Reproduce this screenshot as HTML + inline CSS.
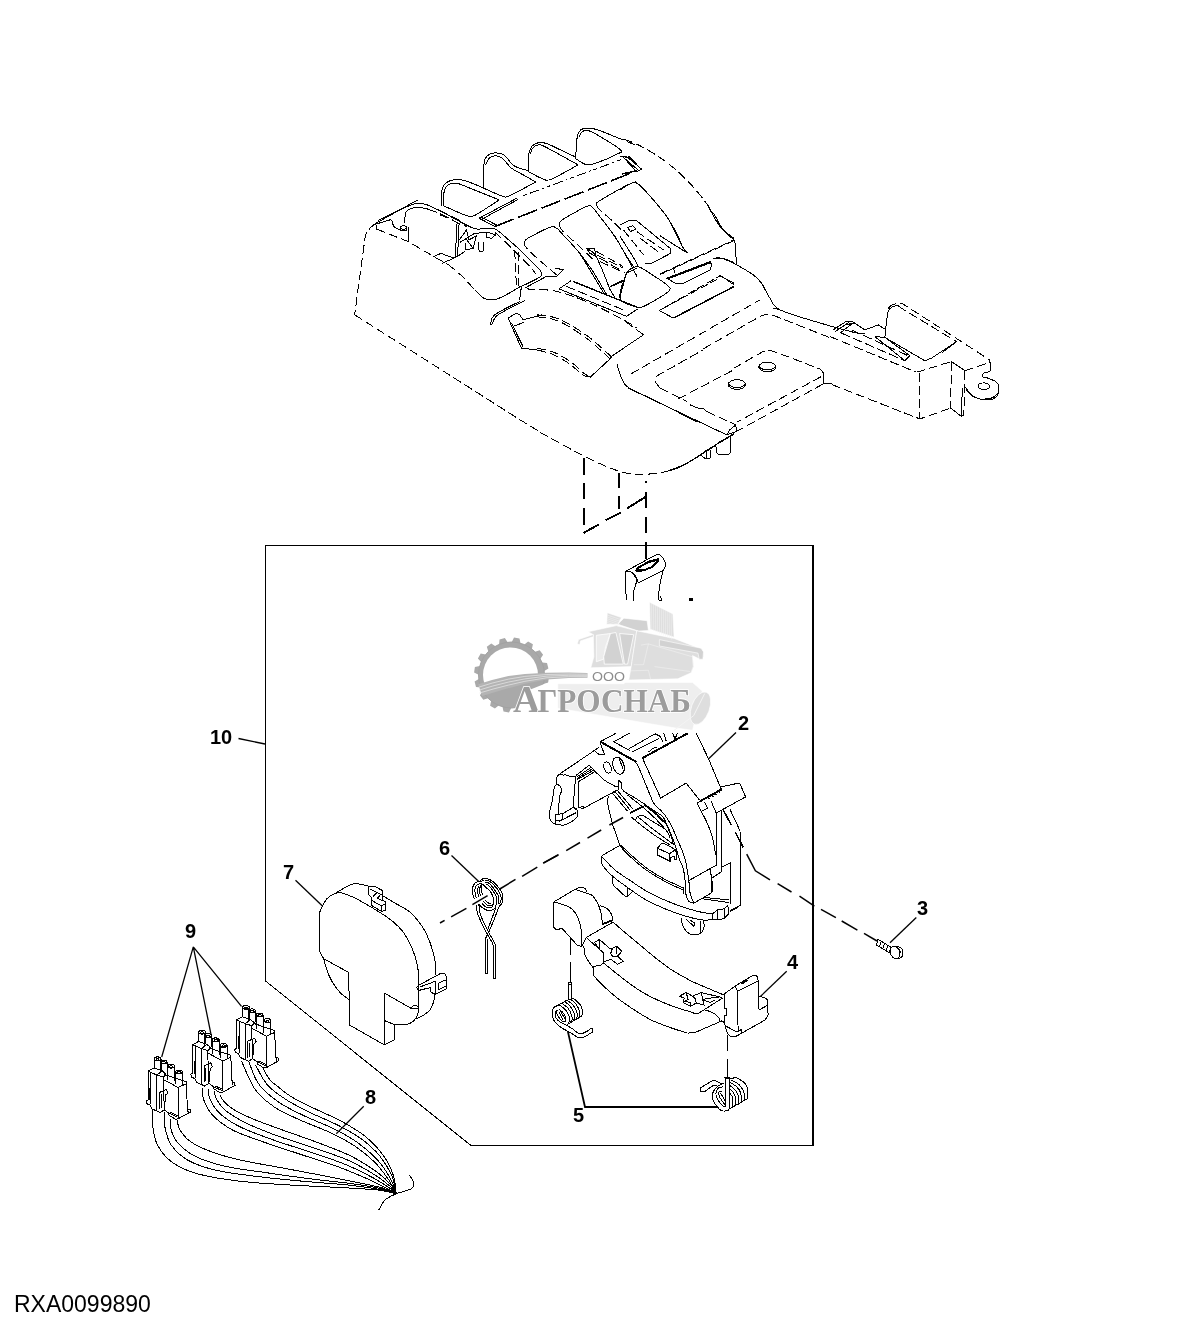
<!DOCTYPE html>
<html><head><meta charset="utf-8">
<style>
html,body{margin:0;padding:0;background:#fff;}
body{width:1184px;height:1334px;overflow:hidden;position:relative;font-family:"Liberation Sans",sans-serif;}
svg{position:absolute;left:0;top:0;}
.l{fill:none;stroke:#000;stroke-width:1;}
.w{fill:#fff;stroke:#000;stroke-width:1;}
.d{fill:none;stroke:#000;stroke-width:1;stroke-dasharray:9 4;}
.ax{fill:none;stroke:#000;stroke-width:1.5;shape-rendering:geometricPrecision;}
.ld{fill:none;stroke:#000;stroke-width:1.3;}
.n{font-family:"Liberation Sans",sans-serif;font-weight:bold;font-size:20px;fill:#000;}
.f{font-family:"Liberation Sans",sans-serif;font-size:23px;fill:#000;}
</style></head><body>
<svg width="1184" height="1334" viewBox="0 0 1184 1334">
<defs><filter id="gs" x="0" y="0" width="1184" height="1334" filterUnits="userSpaceOnUse" color-interpolation-filters="sRGB"><feColorMatrix type="saturate" values="0"/></filter></defs>
<rect width="1184" height="1334" fill="#fff"/>
<g id="parts" shape-rendering="crispEdges">
<!-- part7 -->
<path class="l"  d="M319.4 951.2 C319.4 945.4 319 923.5 319.4 916.2 C319.8 909 320.6 910.4 321.9 907.5 C323.1 904.6 324.7 901.1 326.9 898.8 C329.1 896.4 332.4 894.4 335 893.5 C337.6 892.6 339.2 892.4 342.5 893.1 C345.8 893.9 350.8 896.1 355 898.1 C359.2 900.1 363.3 902.6 367.5 905 C371.7 907.4 375.8 909.8 380 912.5 C384.2 915.2 388.8 918.1 392.5 921.2 C396.2 924.4 399.6 927.5 402.5 931.2 C405.4 935 407.9 939.6 410 943.8 C412.1 947.9 413.6 951.9 415 956.2 C416.4 960.6 417.5 965.2 418.1 970 C418.8 974.8 418.6 978.8 418.8 985 C418.9 991.2 419.1 1002.3 418.8 1007.5 C418.4 1012.7 417.9 1013.9 416.9 1016.2 C415.8 1018.6 414.3 1020.5 412.5 1021.9 C410.7 1023.2 409.3 1023.9 406.2 1024.4 C403.2 1024.8 396.4 1024.6 394.4 1024.6"/>
<path class="l"  d="M335 893.5 C337.7 892 346.9 885.9 351.2 884.4 C355.6 882.9 358.3 884.1 361.2 884.4 C364.2 884.7 367.5 885.9 368.8 886.2"/>
<path class="l"  d="M382.5 895.6 C384.6 896.9 390.6 900.5 395 903.1 C399.4 905.7 405 908.4 408.8 911.2 C412.5 914.1 414.8 916.7 417.5 920 C420.2 923.3 422.9 927.5 425 931.2 C427.1 935 428.5 938.5 430 942.5 C431.5 946.5 432.8 951.2 433.8 955 C434.7 958.8 435.3 961.7 435.6 965 C435.9 968.3 435.6 973.3 435.6 975"/>
<path class="l"  d="M434.4 993.1 C434.3 994.5 434.5 998.4 433.8 1001.2 C433 1004.1 431.7 1007.7 430 1010 C428.3 1012.3 426 1013.5 423.8 1015 C421.5 1016.5 417.5 1018.1 416.2 1018.8"/>
<path class="l"  d="M319.4 951.2 L323.8 958.8 L348.8 972.5 L349.4 1025 L384.4 1045"/>
<path class="l"  d="M323.8 958.8 C324.3 960.6 325.5 966.2 326.9 970 C328.2 973.8 329.7 977.5 331.9 981.2 C334.1 985 337.2 989.5 340 992.5 C342.8 995.5 347.3 998.2 348.8 999.4"/>
<path class="l"  d="M384.4 1045 L384.4 993.1 L410.6 1008.1 L418.8 1008.1"/>
<path class="l"  d="M384.4 1020.6 L394.4 1024.6 L394.4 1040 L384.4 1045"/>
<path class="l"  d="M410.6 1008.1 C411.4 1007.6 413.6 1005 415 1005 C416.4 1005 418.1 1007.6 418.8 1008.1"/>
<path class="l"  d="M368.8 886.2 L374.4 886.2 L382.5 890.6 L382.5 900 L385.6 901.9 L385.6 910.6 L381.2 911.2 L371.9 905.6 L371.9 898.1 L368.8 895Z"/>
<path class="l"  d="M369.4 888.8 L376.9 892.5 L373.1 896.5"/>
<path class="l"  d="M376.9 892.5 L382.5 895"/>
<path class="l"  d="M380 895.6 L377.5 898.1 L382.5 900.6"/>
<path class="l"  d="M371.9 900.6 L381.2 905.6 L385.6 903.8"/>
<path class="l"  d="M381.2 905.6 L381.2 911.2"/>
<path class="l"  d="M418.1 985.6 L441.2 973.1 L445 973.8 L446.2 976.2 L446.2 988.8 L435 994.4 L430.6 991.9 L430.6 987.5 L418.1 990.6 L416.9 987.5Z"/>
<path class="l"  d="M435.6 981.2 L435.6 993.8"/>
<path class="l"  d="M438.8 983.1 L445.6 980"/>
<path class="l"  d="M438.8 983.1 L438.8 989.4 L445.6 986.2"/>
<path class="l"  d="M420 986.9 L435.6 981.2"/>
<!-- part6 -->
<path class="l"  d="M479.8 880.6 C480.4 880.2 483.2 878.4 484.4 878.2 C485.6 878 487.4 878.5 488.6 879.1 C489.9 879.6 492.4 881.1 493.7 882.2 C495.1 883.4 497.7 886.2 498.8 887.7 C499.9 889.3 501.6 892.1 502.2 893.6 C502.7 895.2 503.1 898.2 503 899.6 C503 900.9 502.3 902.8 501.7 903.8 C501.2 904.7 499.2 906.3 498.8 906.7"/>
<path class="l"  d="M484.8 880.1 C485.4 880.2 487.6 880.1 488.6 880.6 C489.7 881.1 491.5 882.7 492.7 883.9 C493.8 885 496.1 887.5 497.2 888.9 C498.2 890.4 499.9 893.3 500.5 894.8 C501 896.3 501.2 898.9 501.1 900.1 C501 901.3 499.9 903.3 499.7 903.8"/>
<path class="l"  d="M485.2 882 C485.6 882.2 487.8 882.5 488.6 883 C489.5 883.5 490.5 884.7 491.4 885.7 C492.3 886.7 494.4 889.4 495.3 890.8 C496.2 892.1 497.9 894.5 498.4 895.8 C498.9 897.2 499.1 899.9 499 901 C499 902.2 497.9 904 497.7 904.4"/>
<path class="l"  d="M486.1 883.9 C486.6 884.3 488.5 885.4 489.5 886.5 C490.5 887.5 492.8 890.6 493.7 892 C494.6 893.4 496 895.7 496.5 897 C496.9 898.4 497 900.9 496.9 902.1 C496.8 903.3 496 905.4 495.8 905.9"/>
<path class="l"  d="M486.1 887.7 C486.6 888.1 488.6 889.3 489.5 890.3 C490.3 891.3 491.9 894 492.4 895.3 C493 896.7 493.6 899.2 493.7 900.4 C493.8 901.6 493.6 903.5 493.3 904.2 C493 904.9 491.5 905.7 491.2 905.9"/>
<path class="l"  d="M484.4 880.8 C483.5 880.9 479 881.2 477.7 881.6 C476.4 882 475.4 882.8 474.7 883.5 C474.1 884.2 473.2 885.9 472.8 886.9 C472.5 887.9 472.2 890 472.2 891.1 C472.2 892.2 472.7 894.3 473 895.3 C473.3 896.4 474.3 898.6 474.5 899.1"/>
<path class="l"  d="M486.1 887.7 C485.7 887.3 483.6 884.9 482.7 884.4 C481.8 883.9 480.1 883.8 479.4 883.9 C478.6 884 477.4 884.7 476.8 885.2 C476.3 885.7 475.6 886.9 475.3 887.7 C475.1 888.5 474.9 890.1 474.9 891.1 C475 892.1 475.4 894.4 475.6 895.3 C475.8 896.3 476.3 897.9 476.4 898.3"/>
<path class="l"  d="M479.4 885.6 C479.2 885.9 478.3 887 478.1 887.7 C477.9 888.5 477.7 890.2 477.7 891.1 C477.7 892 478 893.6 478.1 894.5 C478.2 895.3 478.5 897.1 478.5 897.4"/>
<path class="l"  d="M480.6 885.2 C480.5 885.7 479.9 887.7 479.8 888.6 C479.7 889.5 479.7 890.9 479.8 892 C479.9 893 480.3 895.6 480.4 896.2"/>
<path class="l"  d="M481.9 884.4 C481.8 884.9 481.5 887.5 481.5 888.6 C481.5 889.7 481.8 891.9 481.9 892.8 C482 893.7 482.4 895 482.5 895.3"/>
<path class="l"  d="M478.5 905.9 C478.5 905.7 478.1 904 478.5 904.2 C479 904.4 481 906.5 481.9 907.2 C482.7 907.8 484 908.8 484.8 909.3 C485.7 909.7 487.4 910.4 488.2 910.5 C489.1 910.7 490.3 910.8 491.2 910.5 C492 910.3 493.9 909 494.6 908.4 C495.2 907.8 496 906.2 496.2 905.9"/>
<path class="l"  d="M481.9 903.4 C482.2 903.7 483.7 905.3 484.4 905.9 C485.2 906.5 486.5 907.4 487.4 907.6 C488.2 907.8 490 907.8 490.8 907.6 C491.5 907.4 493 906.1 493.3 905.9"/>
<path class="l"  d="M483.2 901.2 C483.6 901.6 485.4 903.6 486.1 904.2 C486.8 904.8 487.9 905.4 488.6 905.5 C489.4 905.6 491.6 905.1 492 905.1"/>
<path class="l"  d="M485.3 900 C485.7 900.4 487.4 902.4 488.2 902.9 C489 903.4 490.8 903.7 491.2 903.8"/>
<path class="l"  d="M476 905.2 C476.3 906.8 476.4 910.6 478 914.9 C479.6 919.2 483.2 926.3 485.6 931.1 C488.1 935.9 491.4 940.8 492.7 943.7 C494 946.7 493.1 948 493.2 948.8"/>
<path class="l"  d="M493.2 948.8 L493.2 978.7 L495.5 978.7 L495.5 946.3"/>
<path class="l"  d="M479 904.7 C479.3 906.4 479.1 910.6 480.5 914.9 C482 919.1 485.2 925.2 487.6 930.1 C490.1 935 493.9 941.6 495.2 944.3 C496.6 947 495.5 945.9 495.5 946.3"/>
<path class="l"  d="M498.6 906.8 C498.1 908.3 497.1 911.8 495.5 915.9 C494 919.9 490.7 927.7 489.2 931.1 C487.6 934.5 487.1 934.5 486.4 936.1 C485.8 937.8 485.5 940.4 485.3 941.2"/>
<path class="l"  d="M485.3 941.2 L485.1 973.1 L487.4 973.1 L487.4 939.2"/>
<path class="l"  d="M495.9 908 C495.4 909.3 494 913 492.9 915.9 C491.8 918.7 490.4 922.6 489.5 925 C488.5 927.4 487.8 929.2 487.4 930.1"/>
<path class="ax"  d="M440 923 L444.6 920.4"/>
<path class="ax"  d="M451.1 916.9 L466.4 908.3"/>
<path class="ax"  d="M472.4 904.7 L487.6 895.6"/>
<path class="ax"  d="M499.8 889 L515.5 879.4"/>
<path class="ax"  d="M522.1 876.4 L537.3 867.2"/>
<path class="ax"  d="M543.4 863.2 L558.6 854.6"/>
<!-- part2 -->
<path class="l"  d="M616.2 733.1 L600 741.9 L604.4 754.4 L599.4 755 L594 750"/>
<path class="l"  d="M598.8 747.5 L560 773.8"/>
<path class="l"  d="M629.4 733.1 L613.8 741.9 L630 750.6"/>
<path class="l"  d="M560 773.8 C559.6 774.2 558.1 775.2 557.5 776.2 C556.9 777.3 556.4 778.8 556.2 780 C556.1 781.2 557.2 782.5 556.9 783.8 C556.6 785 555 785.6 554.4 787.5 C553.8 789.4 553.5 792.5 553.1 795 C552.7 797.5 552.4 799.8 551.9 802.5 C551.3 805.2 550.1 808.5 549.8 811.2 C549.4 814 549.3 816.9 549.8 818.8 C550.2 820.6 551.4 821.6 552.5 822.5 C553.6 823.4 554.4 824 556.2 824.4 C558.1 824.8 561.5 825.3 563.8 825 C566 824.7 567.9 823.6 570 822.5 C572.1 821.4 575 819.4 576.2 818.1 C577.5 816.9 577.1 816.4 577.2 815 C577.4 813.6 577.8 811.4 577.2 810 C576.7 808.6 574.3 807.4 573.8 806.9"/>
<path class="l"  d="M560 773.8 C560.5 774 562.1 774.8 563.1 775 C564.2 775.2 564.7 774.7 566.2 775 C567.8 775.3 570.8 776.7 572.5 776.9 C574.2 777.1 575.6 776.4 576.2 776.2"/>
<path class="l"  d="M556.9 783.8 C557.4 784.2 559.2 785.2 560 786.2 C560.8 787.3 561.9 788.5 561.9 790 C561.9 791.5 560.5 792.5 560 795 C559.5 797.5 559.1 801.9 558.8 805 C558.4 808.1 558.2 812.3 558.1 813.8"/>
<path class="l"  d="M555 814.4 L562.5 813.8 L573.1 807.5 L576.9 810"/>
<path class="l"  d="M555 814.4 L555 820.6 L561.9 820 L562.5 813.8"/>
<path class="l"  d="M561.9 820 L576.2 812.5"/>
<path class="l"  d="M558.8 821.5 L576.2 812.8"/>
<path class="l"  d="M555 820.6 L556.2 824.4"/>
<path class="l"  d="M575.6 777.5 L573.1 806.9"/>
<path class="l"  d="M578.1 781.2 L578.1 808.1 L583.1 806.2 L583.8 808.5 L581.2 809"/>
<path class="l"  d="M575.6 775.6 L589.4 765.2 L595 771.5 L578.8 781.5"/>
<path class="l"  d="M576.5 777.2 L591.9 766.9"/>
<path class="l"  d="M577 778.5 L593.1 768.4"/>
<path class="l"  d="M577.5 779.5 L594 770"/>
<path class="l"  d="M595 771.5 C595.6 772.1 597.1 773.5 598.8 775 C600.4 776.5 602.3 778.8 605 780.6 C607.7 782.5 612.8 785.2 615 786.2 C617.2 787.3 617.6 786.8 618.1 786.9"/>
<path class="l"  d="M618.1 780 L618.1 790.2"/>
<path class="l"  d="M618.1 780 L621.2 782.5 L621.9 788.8 L623.5 791"/>
<path class="l"  d="M583.8 808.1 L616.9 790.2"/>
<path class="l"  d="M612.5 793.1 L618.1 790"/>
<path class="l"  d="M608.1 796.2 C608.1 797.9 607.4 801.7 608.1 806.2 C608.9 810.8 611.4 819.6 612.5 823.8 C613.6 827.9 614 828.1 615 831.2 C616 834.4 618 840.1 618.8 842.5 C619.5 844.9 619.3 845.1 619.4 845.6"/>
<ellipse class="l" cx="607.5" cy="767.5" rx="3.4" ry="5.8" transform="rotate(-20 607.5 767.5)"/>
<ellipse class="l" cx="618.5" cy="765.6" rx="5.4" ry="8.8" transform="rotate(-18 618.5 765.6)"/>
<path class="l"  d="M618.8 757.8 L623.1 769"/>
<path class="l" style="stroke-width:2" d="M600.2 741.6 L636.5 762"/>
<path class="l"  d="M636 762.7 C636.3 763.3 637.2 763.9 638.5 766.9 C639.9 770 644.1 780.7 646.2 785.6 C648.2 790.4 651.8 800 653.8 803.3 C655.8 806.7 659.6 808.9 661.4 811 C663.2 813 665.9 816.3 667.3 818.6 C668.8 820.8 671.1 825.1 672.4 827.9 C673.8 830.7 676.1 836.6 677.5 839.8 C678.9 842.9 681.4 848.5 682.6 851.6 C683.7 854.7 685.1 859.2 686 863 C686.8 866.7 688.2 876.1 688.8 880 C689.3 883.9 689.3 889.4 690 892.5 C690.7 895.6 693.2 901.7 693.8 903.1"/>
<path class="l"  d="M645.3 805 C646.9 806.1 654.7 811 657.2 812.7 C659.6 814.4 661.7 814.8 663.5 817.7 C665.4 820.7 669.5 830.7 671.1 834.7 C672.8 838.6 674.7 844 675.8 847.4 C676.9 850.8 678.6 857.3 679.6 860.1 C680.6 862.8 682.4 865.3 683.1 868 C683.8 870.7 684.7 876.7 685 880 C685.3 883.3 685.1 889.7 685.6 892.5 C686.1 895.3 687.7 899.8 688.8 901.2 C689.8 902.7 693.1 902.9 693.8 903.1"/>
<path class="l" style="stroke-width:2" d="M642.5 758.1 L688.1 733.1"/>
<path class="l"  d="M642.5 758.1 L660.6 798.1 L686.2 783.1 L699.4 800"/>
<path class="l"  d="M696.2 733.1 L708.8 759.4 L720 786.2"/>
<path class="l"  d="M628.8 748.8 L655 733.8 L660 736.2 L663.1 742.5"/>
<path class="l"  d="M632.5 751.9 L658.8 738.8"/>
<path class="l"  d="M648.8 751.9 C649.4 751.4 651 749.6 652.5 748.8 C654 747.9 656.7 747.2 657.5 746.9"/>
<path class="l"  d="M663.8 733.1 L666.2 741.2"/>
<path class="l"  d="M672.5 733.1 L675 738.8 L677.5 733.1"/>
<path class="l"  d="M612.5 793.1 L627.5 811.2"/>
<path class="l"  d="M615 791.5 L630.2 810.2"/>
<path class="l"  d="M617.5 790.6 L632.8 809"/>
<path class="l" style="stroke-width:1.6" d="M630 813.1 L643.8 806.2"/>
<path class="l" style="stroke-width:2" d="M644 804 L657.5 815 L663.1 821.5"/>
<path class="l"  d="M631.2 816.9 L635 820.2 L637.5 816.5 L642.5 815.2 L665 829"/>
<path class="l"  d="M622.5 790.6 C626 792.8 636.7 798.4 643.8 803.8 C650.8 809.1 660 815.6 665 822.5 C670 829.4 672.3 841.2 673.8 845"/>
<path class="l"  d="M627.5 795 C630.6 797.5 640 804.4 646.2 810 C652.5 815.6 661 824.2 665 828.8 C669 833.3 669.2 836 670 837.5"/>
<path class="l"  d="M637.5 816.5 C640 818.5 646.7 824.2 652.5 828.8 C658.3 833.3 669.2 841.2 672.5 843.8"/>
<path class="l"  d="M635 820.2 C637.9 822.5 646.7 829.6 652.5 833.8 C658.3 837.9 667.1 843.1 670 845"/>
<path class="l"  d="M657.5 848.1 L661.9 843.1 L665 843.8 L675 849.4 L676.9 855 L676.9 860 L674.4 859.4 L674.4 856.2 L670 857.5 L670 861.2 L657.5 855Z"/>
<path class="l"  d="M657.5 848.1 L669.4 853.8 L670 861.2"/>
<path class="l"  d="M669.4 853.8 L675 850"/>
<path class="ax"  d="M543.1 863.1 L558.1 855"/>
<path class="ax"  d="M566.2 850.6 L580 842.5"/>
<path class="ax"  d="M587.5 838.1 L601.2 830"/>
<path class="ax"  d="M609.4 825 L623.1 817.5"/>
<path class="l"  d="M696.9 803.1 L700 801.2 L721.2 788.8 L720 787.1 L738.8 783.1 L740 783.8 L745.6 796.9 L716.2 813.1 L711.2 801.5"/>
<path class="l" style="stroke-width:2" d="M700 801.2 L721.9 789.4"/>
<path class="l"  d="M696.9 803.1 L701.2 811.2 L707.5 808.5 L704.6 801.9"/>
<path class="d" style="stroke-dasharray:2 2" d="M708.1 799 L721.5 791.5"/>
<path class="l"  d="M701.2 811.2 C702.3 813.3 705.6 819.4 707.5 823.8 C709.4 828.1 711.1 832.3 712.5 837.5 C713.9 842.7 715.1 852.1 715.6 855"/>
<path class="l"  d="M716.5 813.1 L716.5 865 L688.8 880.6 L690 891.8"/>
<path class="l"  d="M721.2 811.2 L721.2 871.5"/>
<path class="l"  d="M710 868.8 L711.9 878.1 L721.2 871.9"/>
<path class="l"  d="M721.2 867.5 L730.6 862.5 L730.6 903.5"/>
<path class="l"  d="M711.9 878.1 L712.5 891.8"/>
<path class="l"  d="M740 831.2 L740.6 847.5 L740.8 905 L729.8 910.5"/>
<path class="l"  d="M730 809.4 C731 811.6 734.6 818.9 736.2 822.5 C737.9 826.1 739.4 829.8 740 831.2"/>
<path class="l"  d="M601.9 855.6 L619.4 845.6"/>
<path class="l"  d="M619.4 845.6 C621.4 847.6 626.8 853.4 631.2 857.5 C635.7 861.6 641 866.2 646.2 870 C651.5 873.8 657.3 877.1 662.5 880 C667.7 882.9 674 885.8 677.5 887.5 C681 889.2 682.7 889.6 683.8 890"/>
<path class="l"  d="M620.6 845 C622.6 846.9 628 852.3 632.5 856.2 C637 860.2 642.3 865 647.5 868.8 C652.7 872.5 657.7 875.5 663.8 878.8 C669.8 882 680.4 886.6 683.8 888.1"/>
<path class="l"  d="M683.8 888.1 L683.8 893.8"/>
<path class="l"  d="M601.9 855.6 C601.9 857 600.3 860.5 601.9 863.8 C603.4 867 607 871 611.2 875 C615.5 879 621.7 883.3 627.5 887.5 C633.3 891.7 640 896.5 646.2 900 C652.5 903.5 658.8 906.1 665 908.8 C671.2 911.4 677.5 913.8 683.8 915.6 C690 917.5 697.6 919.4 702.5 920 C707.4 920.6 711.4 919.5 713.1 919.4"/>
<path class="l"  d="M602.5 857.5 C604.6 859.6 610.2 866 615 870 C619.8 874 625.6 877.5 631.2 881.2 C636.9 885 642.7 889.2 648.8 892.5 C654.8 895.8 661.2 898.6 667.5 901.2 C673.8 903.9 680.4 906.2 686.2 908.1 C692.1 910 698.1 911.6 702.5 912.5 C706.9 913.4 710.8 913.5 712.5 913.8"/>
<path class="l"  d="M612.5 876.2 L613.1 885 L625 896.2 L627.5 896.2 L631.9 892.5"/>
<path class="l"  d="M627.5 887.5 L627.5 896.2"/>
<path class="l"  d="M712.5 913.8 L717.5 910 L724.4 908.8 L727.5 905.6 L728.8 908.8 L728.8 913.8 L724.4 918.1 L721.2 919.4 L713.1 919.4Z"/>
<path class="l"  d="M717.5 910 L717.5 918.8"/>
<path class="l"  d="M724.4 908.8 L725 917.5"/>
<path class="l"  d="M710 870 C710.3 871.7 711.7 876.1 711.9 880 C712.1 883.9 711.4 890.9 711.2 893.1"/>
<path class="l"  d="M711.2 893.1 L693.8 903.1"/>
<path class="l"  d="M702.5 898.8 L728.8 902.5"/>
<path class="l"  d="M705 897.5 L729.4 900"/>
<path class="l"  d="M681.2 918.1 C681.5 919.3 681.7 922.8 682.5 925 C683.3 927.2 684.8 929.7 686.2 931.2 C687.7 932.8 689.2 933.9 691.2 934.4 C693.3 934.9 696.7 935.3 698.8 934.4 C700.8 933.4 702.9 931 703.8 928.8 C704.6 926.5 703.8 922 703.8 920.6"/>
<path class="l"  d="M700 920.6 L700 932.5"/>
<path class="l"  d="M686.2 919.4 L693.8 926.2 L695 923.1 L690 920"/>
<path class="l"  d="M730 911.2 L738 907.5"/>
<!-- part4 -->
<path class="l"  d="M553.8 901.9 L575 889.4"/>
<path class="l"  d="M575 889.4 C575.5 889.2 577 888.4 578.1 888.1 C579.3 887.8 580.6 887.4 581.9 887.5 C583.1 887.6 584.9 888.2 585.6 889 C586.4 889.8 586.1 891.9 586.2 892.5"/>
<path class="l"  d="M575 889.4 C576.9 890 583.3 892.1 586.2 893.1 C589.2 894.2 590.7 894.2 592.5 895.6 C594.3 897.1 595.5 899.3 596.9 901.9 C598.2 904.5 599.7 907.6 600.6 911.2 C601.6 914.9 602.2 921.7 602.5 923.8"/>
<path class="l"  d="M602.5 923.8 L613.1 919.4"/>
<path class="l"  d="M602.5 924.6 L613.1 920.6"/>
<path class="l"  d="M553.8 901.9 L553.8 927.5 L556.9 930 L561.9 928.1 L577.5 945.6 L581.9 946.2"/>
<path class="l"  d="M553.8 901.9 C555.2 902.3 559.8 903.4 562.5 904.4 C565.2 905.3 567.9 906.1 570 907.5 C572.1 908.9 573.5 910.4 575 912.5 C576.5 914.6 577.7 917.1 578.8 920 C579.8 922.9 580.7 925.6 581.2 930 C581.8 934.4 581.8 943.5 581.9 946.2"/>
<path class="l"  d="M600 905.6 C601.2 906.1 605.6 907.4 607.5 908.8 C609.4 910.1 610.3 912 611.2 913.8 C612.2 915.5 612.8 918.4 613.1 919.4"/>
<path class="l"  d="M581.9 946.2 L586.2 937.5 L613.1 922.1"/>
<path class="l"  d="M586.2 937.5 L603.8 953.1 L603.8 961.9 L600.6 965.6 L593.1 966.2 L593.1 975"/>
<path class="l"  d="M583.8 946.2 C584 947.7 584.1 952.3 585 955 C585.9 957.7 588 960.4 589.4 962.5 C590.7 964.6 592.5 966.7 593.1 967.5"/>
<path class="l"  d="M613.1 922.1 C615.1 923.9 620.5 928.7 625 932.5 C629.5 936.3 635 940.8 640 945 C645 949.2 650 953.5 655 957.5 C660 961.5 665.4 965.6 670 968.8 C674.6 971.9 678.7 974.1 682.5 976.2 C686.3 978.4 688.8 979.9 693 981.9 C697.2 983.9 702.6 986 707.5 988.1 C712.4 990.2 719.7 993.2 722.5 994.4 C725.3 995.5 724.1 994.9 724.4 995"/>
<path class="l"  d="M603.8 963.1 C606.5 965.3 614.2 971.8 620 976.2 C625.8 980.7 632.5 986 638.8 990 C645 994 651.2 997.1 657.5 1000 C663.8 1002.9 670.3 1005.4 676.2 1007.5 C682.2 1009.6 690.1 1011.5 693 1012.5 C695.9 1013.5 693.6 1013.5 693.8 1013.8"/>
<path class="l"  d="M593.1 975 C594.5 976.5 597.6 980.2 601.2 983.8 C604.9 987.3 609.8 992.1 615 996.2 C620.2 1000.4 626.5 1004.8 632.5 1008.8 C638.5 1012.7 645 1016.9 651.2 1020 C657.5 1023.1 664 1025.3 670 1027.5 C676 1029.7 684.6 1032.2 687.5 1033.1"/>
<path class="l"  d="M594.4 942.5 L599.4 939.4 L609.4 948.1 L612.5 948.1 L616.9 946.2 L621.9 951.2 L617.5 956.2 L623.1 961.2 L617.5 964.4 L611.2 959.4 L603.8 961.9"/>
<path class="l"  d="M594.4 942.5 L600 950 L603.8 953.1"/>
<path class="l"  d="M599.4 939.4 L600 950"/>
<path class="l"  d="M612.5 948.1 L610.6 953.8 L613.1 956.9 L617.5 956.2"/>
<path class="l"  d="M616.9 946.2 L616.9 953.8"/>
<path class="l"  d="M693.8 1013.8 L698.8 1013.1 L722.5 998.1"/>
<path class="l"  d="M687.5 1033.1 L695 1032.5 L722.5 1020.6"/>
<path class="l"  d="M705 1010 C706.2 1010.4 710.2 1011.2 712.5 1012.5 C714.8 1013.8 717.5 1016 718.8 1017.5 C720 1019 719.8 1020.6 720 1021.2"/>
<path class="l"  d="M724.4 993.8 L735 986.2 L737.5 991.2 L738.1 1031.2 L741.9 1029.4 L741.9 1033.1 L735 1036.9 L730 1036.2 L727.5 1033.8 L725 1025 L722.5 1020.6"/>
<path class="l"  d="M724.4 993.8 L724.4 1008.1 L726.2 1008.8 L726.2 1015 L724.4 1015 L725 1025"/>
<path class="l"  d="M726.2 1026.2 L735 1031.2 L738.1 1031.9"/>
<path class="l"  d="M735 986.2 L752.5 975.6 L755.6 975 L757.5 976.9 L758.1 980 L758.8 996.2 L765.6 998.1 L767.5 1000 L768.1 1015 L765 1020 L741.9 1033.1"/>
<path class="l" style="stroke-width:2" d="M741.2 983.8 L747.5 980"/>
<path class="l"  d="M737.5 991.2 L757.5 981.2"/>
<path class="l"  d="M758.8 996.2 L758.8 1008.8 L760 1009.4 L768.1 1005"/>
<path class="l"  d="M679.4 996.2 L686.2 992.5 L692.5 996.2 L701.2 992.5 L703.1 993.1 L722.5 997.5"/>
<path class="l"  d="M679.4 996.2 L684.4 998.1 L683.1 1002.5 L690.6 1006.2 L696.2 1003.1 L703.8 1005 L705 1005.6"/>
<path class="l"  d="M686.2 992.5 L688.1 999.4 L685 1001.2 L690 1002.5 L690.6 1006.2"/>
<path class="l"  d="M701.2 992.5 L703.8 1005"/>
<path class="l"  d="M692.5 996.2 L695.6 998.8 L696.2 1003.1"/>
<path class="l"  d="M703.1 1000 L705 998.8 L720 996.9"/>
<path class="l"  d="M703.1 1000 L710 1002.5 L715 1000"/>
<!-- part5 -->
<path class="l"  d="M570.6 938.8 L570.6 955"/>
<path class="l"  d="M570.6 961.9 L570.6 981.9"/>
<path class="l"  d="M568.2 999.5 L568.2 982.1 L571.8 982.1 L571.8 999"/>
<path class="l"  d="M568.2 984.7 L571.8 984.7"/>
<path class="l"  d="M553.2 1007.6 C554.2 1007.1 557.1 1005.8 559.3 1004.6 C561.5 1003.4 564.4 1001.4 566.4 1000.5 C568.4 999.5 570.1 999.2 571.5 999 C572.9 998.7 573.5 998.7 574.6 999.2 C575.6 999.7 576.6 1001 577.6 1002 C578.6 1003.1 579.9 1004.1 580.7 1005.6 C581.5 1007 582.2 1009.2 582.5 1010.7 C582.8 1012.1 582.8 1013.2 582.5 1014.2 C582.2 1015.3 581 1016.4 580.7 1016.8"/>
<path class="l"  d="M566.9 1024.7 L580.7 1016.8"/>
<path class="l"  d="M559.8 1005.1 C559.2 1005.3 556.1 1006 555.2 1006.6 C554.2 1007.2 553.1 1008.6 552.6 1009.7 C552.2 1010.7 552 1013.4 552.1 1014.8 C552.3 1016.1 553.1 1018.6 553.7 1019.9 C554.3 1021.1 555.5 1022.8 556.7 1023.9 C557.9 1025.1 561.4 1027.6 562.8 1028.5 C564.3 1029.5 566 1030.2 567.4 1031.1 C568.9 1031.9 572.1 1033.8 573.5 1034.6 C575 1035.5 576.8 1037.1 578.1 1037.4 C579.4 1037.8 581.9 1037.8 583.2 1037.4 C584.6 1037.1 587.1 1035.4 588.3 1034.6 C589.6 1033.9 592.1 1032.2 592.7 1031.8"/>
<path class="l"  d="M592.7 1031.8 L592.7 1029 L591.4 1028"/>
<path class="l"  d="M556.2 1010.2 C556.1 1010.6 555.2 1012.6 555.2 1013.7 C555.2 1014.8 555.6 1017.2 556.2 1018.3 C556.8 1019.4 558.4 1020.9 559.8 1021.9 C561.2 1022.8 565.1 1024.4 566.9 1025.5 C568.8 1026.5 572 1028.5 573.5 1029.5 C575 1030.6 576.8 1032.6 578.1 1033.1 C579.4 1033.6 582 1033.4 583.2 1033.1 C584.4 1032.8 586.2 1031.7 587.3 1031.1 C588.4 1030.4 590.8 1028.6 591.4 1028.3"/>
<path class="l"  d="M556.7 1010.7 C557.2 1010.3 559.3 1009.6 560.3 1010.2 C561.3 1010.7 563.6 1013.6 564.4 1014.8 C565.1 1015.9 565.8 1017.9 565.9 1018.8 C566 1019.7 565.9 1021.1 565.4 1021.4 C564.9 1021.7 563.2 1021.7 562.3 1021.1 C561.4 1020.6 559.5 1018.4 558.8 1017.3 C558 1016.3 557 1014.1 556.7 1013.2 C556.5 1012.3 556.2 1011.1 556.7 1010.7Z"/>
<path class="l"  d="M558.8 1011.7 L562.8 1019.9"/>
<path class="l"  d="M560.3 1010.7 L564.9 1018.8"/>
<path class="l"  d="M559.8 1005.1 C560.5 1005.7 564.2 1008.2 565.4 1009.7 C566.6 1011.1 568.4 1014.3 569 1015.8 C569.5 1017.3 569.6 1019.8 569.5 1020.9 C569.3 1022 568.1 1023.5 567.9 1023.9"/>
<path class="l"  d="M562.3 1003.5 C563.1 1004.2 566.7 1006.6 567.9 1008.1 C569.2 1009.6 571 1013.2 571.5 1014.8 C572 1016.3 572.2 1018.8 572 1019.9 C571.8 1020.9 570.2 1022.5 570 1022.9"/>
<path class="l"  d="M565.4 1002 C566.1 1002.6 569.3 1005.1 570.5 1006.6 C571.6 1008.1 573.5 1011.7 574.1 1013.2 C574.6 1014.8 574.8 1017.2 574.6 1018.3 C574.4 1019.4 572.8 1021 572.5 1021.4"/>
<path class="l"  d="M567.9 1000.7 C568.6 1001.3 571.9 1003.6 573 1005.1 C574.2 1006.5 576.1 1010.1 576.6 1011.7 C577.1 1013.3 577.3 1015.7 577.1 1016.8 C576.9 1017.9 575.3 1019.7 575.1 1020.1"/>
<path class="l"  d="M571 999.5 C571.6 1000 574.5 1002.1 575.6 1003.5 C576.7 1005 578.6 1008.6 579.1 1010.2 C579.7 1011.7 579.9 1014.1 579.7 1015.3 C579.5 1016.4 577.9 1018.4 577.6 1018.8"/>
<path class="l"  d="M727.5 1035 L727.5 1051.2"/>
<path class="l"  d="M727.5 1058.8 L727.5 1077.5"/>
<path class="l"  d="M727.4 1070 L727.4 1077.1"/>
<path class="l"  d="M724.4 1077.6 L729.5 1077.6"/>
<path class="l"  d="M725.7 1106.5 L725.7 1078.4 L729.2 1078.4 L729.2 1109"/>
<path class="l"  d="M724.4 1083.2 C723.7 1083.4 720.5 1084.5 719.3 1085.2 C718.1 1085.9 716.2 1087.6 715.3 1088.8 C714.4 1089.9 712.8 1092.4 712.5 1093.8 C712.1 1095.2 712.2 1097.8 712.7 1099.4 C713.2 1101 715.1 1104 716.3 1105.5 C717.4 1107 719.9 1109.9 721.4 1110.5 C722.8 1111.2 726.4 1110.8 727.4 1110.5 C728.5 1110.3 729 1109.2 729.2 1109"/>
<path class="l"  d="M723.4 1086.7 C722.8 1086.9 719.8 1087.1 718.8 1087.7 C717.9 1088.3 716.6 1090.1 716.3 1091.3 C715.9 1092.4 715.9 1095 716.3 1096.4 C716.6 1097.7 717.9 1100.1 718.8 1101.4 C719.8 1102.8 722.5 1105.8 723.4 1106.5 C724.3 1107.2 725.4 1106.5 725.7 1106.5"/>
<path class="l"  d="M721.9 1091.3 C721.5 1091.4 719.2 1091.6 718.8 1092.3 C718.5 1093 718.9 1095.1 719.3 1096.4 C719.8 1097.6 721.6 1100.3 722.4 1101.4 C723.1 1102.5 724.6 1104.1 724.9 1104.5"/>
<path class="l"  d="M720.3 1092.8 L724.9 1100.4"/>
<path class="l"  d="M700.1 1088.8 C700.2 1088.6 700.4 1088 701.6 1087.2 C702.8 1086.5 710.2 1081.8 711.7 1081.2 C713.2 1080.5 715.9 1080.9 716.8 1081.2 C717.7 1081.4 720.1 1083.4 720.8 1083.7 C721.6 1083.9 724 1083.7 724.4 1083.7"/>
<path class="l"  d="M704.6 1091.8 C705.5 1091.1 712.6 1085.8 713.8 1085.2 C714.9 1084.6 715.9 1085.6 716.3 1085.7 C716.6 1085.9 717.4 1086.4 717.3 1086.7 C717.2 1087 715.5 1088.6 715.3 1088.8"/>
<path class="l"  d="M700.1 1088.8 L700.1 1091.8 L704.6 1091.8"/>
<path class="l"  d="M730 1079.1 C730.3 1079 731.6 1078.2 732.5 1078.1 C733.5 1078 736 1077.8 737.1 1078.1 C738.1 1078.4 739.6 1079.5 740.6 1080.1 C741.6 1080.8 743.7 1082 744.7 1083.2 C745.6 1084.3 747.3 1086.7 747.7 1088.8 C748.2 1090.8 747.9 1097.1 748 1098.4"/>
<path class="l"  d="M730 1108.5 L748 1098.4"/>
<path class="l"  d="M730 1093.3 C730.3 1093.9 732.1 1095.5 732.5 1097.4 C732.9 1099.3 732.7 1106.2 732.8 1107.5"/>
<path class="l"  d="M730 1089.3 C730.4 1089.7 732.8 1091.7 733.5 1092.8 C734.3 1093.9 735.3 1095.6 735.5 1097.4 C735.8 1099.1 735.5 1104.8 735.5 1106"/>
<path class="l"  d="M730 1085.7 C730.6 1086.3 734 1088.5 735 1089.8 C736.1 1091.1 737.6 1093.4 738.1 1095.3 C738.5 1097.3 738.3 1103.2 738.3 1104.5"/>
<path class="l"  d="M730 1082.4 C730.9 1083 735.1 1085.3 736.6 1086.7 C738 1088.1 740 1090.7 740.6 1092.8 C741.3 1094.9 741.3 1101.2 741.4 1102.4"/>
<path class="l"  d="M730.5 1079.6 C731.6 1080.2 736.9 1082.8 738.6 1084.2 C740.3 1085.6 742.3 1088.7 743.2 1090.3 C744 1091.9 744.5 1095 744.7 1096.4 C744.9 1097.7 744.7 1099.9 744.7 1100.4"/>
<!-- part9 -->
<ellipse class="l" cx="157.5" cy="1058.8" rx="3.4" ry="1.9"/>
<ellipse class="l" cx="157.5" cy="1059.2" rx="1.6" ry="1"/>
<path class="l"  d="M154 1058.8 L154 1068.5"/>
<path class="l"  d="M161 1058.8 L161 1069.8"/>
<ellipse class="l" cx="163.5" cy="1062.1" rx="3.4" ry="1.9"/>
<ellipse class="l" cx="163.5" cy="1062.6" rx="1.6" ry="1"/>
<path class="l"  d="M160 1062.1 L160 1071.9"/>
<path class="l"  d="M167 1062.1 L167 1073.1"/>
<ellipse class="l" cx="171.2" cy="1066.2" rx="3.4" ry="1.9"/>
<ellipse class="l" cx="171.2" cy="1066.8" rx="1.6" ry="1"/>
<path class="l"  d="M167.8 1066.2 L167.8 1080"/>
<path class="l"  d="M174.8 1066.2 L174.8 1081.2"/>
<ellipse class="l" cx="179.0" cy="1071.9" rx="3.4" ry="1.9"/>
<ellipse class="l" cx="179.0" cy="1072.4" rx="1.6" ry="1"/>
<path class="l"  d="M175.5 1071.9 L175.5 1084"/>
<path class="l"  d="M182.5 1071.9 L182.5 1085.2"/>
<path class="l"  d="M148.1 1071.2 L153.8 1068.1 L161.9 1070.6 L165.6 1073.8 L163.1 1076.9 L156.9 1075Z"/>
<path class="l"  d="M156.9 1075 L161.9 1071"/>
<path class="l"  d="M148.1 1071.2 L148.1 1100 L146.2 1100.6 L146.9 1103.8 L150 1105 L151.9 1108.8 L160 1112.5 L164.4 1110"/>
<path class="l"  d="M150.6 1073.1 L150.6 1104"/>
<path class="l"  d="M149.8 1087.5 L149.8 1100"/>
<path class="l"  d="M156.9 1075 L156.9 1111.2"/>
<path class="l"  d="M159.4 1108.8 L159.4 1092.5 L166.2 1089.4 L167.8 1093.1 L165.6 1095 L164.4 1108.8"/>
<path class="l"  d="M161.2 1094 L161.2 1107.8"/>
<path class="l"  d="M163.1 1077.5 L166.2 1075 L186.2 1081.9 L186.2 1083.8 L178.1 1087.5 L163.1 1079.4Z"/>
<path class="l"  d="M178.1 1087.5 L178.1 1117.8"/>
<path class="l"  d="M163.1 1079.4 L164.4 1110"/>
<path class="l"  d="M186.2 1083.8 L187.5 1108.8 L190 1109.4 L190.6 1111.9 L178.1 1118.8 L175.6 1119.4 L168.8 1115 L168.8 1113.1 L164.4 1110"/>
<path class="l"  d="M168.8 1113.1 L177.5 1117.1"/>
<path class="l"  d="M170.2 1112.2 L178.4 1116"/>
<path class="l"  d="M187.5 1108.8 L188.1 1111.9"/>
<ellipse class="l" cx="202.1" cy="1032.2" rx="3.4" ry="1.9"/>
<ellipse class="l" cx="202.1" cy="1032.8" rx="1.6" ry="1"/>
<path class="l"  d="M198.6 1032.2 L198.6 1042"/>
<path class="l"  d="M205.6 1032.2 L205.6 1043.2"/>
<ellipse class="l" cx="208.1" cy="1035.6" rx="3.4" ry="1.9"/>
<ellipse class="l" cx="208.1" cy="1036.1" rx="1.6" ry="1"/>
<path class="l"  d="M204.6 1035.6 L204.6 1045.4"/>
<path class="l"  d="M211.6 1035.6 L211.6 1046.6"/>
<ellipse class="l" cx="215.8" cy="1039.8" rx="3.4" ry="1.9"/>
<ellipse class="l" cx="215.8" cy="1040.2" rx="1.6" ry="1"/>
<path class="l"  d="M212.3 1039.8 L212.3 1053.5"/>
<path class="l"  d="M219.3 1039.8 L219.3 1054.8"/>
<ellipse class="l" cx="223.6" cy="1045.4" rx="3.4" ry="1.9"/>
<ellipse class="l" cx="223.6" cy="1045.9" rx="1.6" ry="1"/>
<path class="l"  d="M220.1 1045.4 L220.1 1057.5"/>
<path class="l"  d="M227.1 1045.4 L227.1 1058.8"/>
<path class="l"  d="M192.7 1044.8 L198.3 1041.6 L206.5 1044.1 L210.2 1047.2 L207.7 1050.4 L201.5 1048.5Z"/>
<path class="l"  d="M201.5 1048.5 L206.5 1044.5"/>
<path class="l"  d="M192.7 1044.8 L192.7 1073.5 L190.8 1074.1 L191.5 1077.2 L194.6 1078.5 L196.5 1082.2 L204.6 1086 L209 1083.5"/>
<path class="l"  d="M195.2 1046.6 L195.2 1077.5"/>
<path class="l"  d="M194.3 1061 L194.3 1073.5"/>
<path class="l"  d="M201.5 1048.5 L201.5 1084.8"/>
<path class="l"  d="M204 1082.2 L204 1066 L210.8 1062.9 L212.3 1066.6 L210.2 1068.5 L209 1082.2"/>
<path class="l"  d="M205.8 1067.5 L205.8 1081.2"/>
<path class="l"  d="M207.7 1051 L210.8 1048.5 L230.8 1055.4 L230.8 1057.2 L222.7 1061 L207.7 1052.9Z"/>
<path class="l"  d="M222.7 1061 L222.7 1091.2"/>
<path class="l"  d="M207.7 1052.9 L209 1083.5"/>
<path class="l"  d="M230.8 1057.2 L232.1 1082.2 L234.6 1082.9 L235.2 1085.4 L222.7 1092.2 L220.2 1092.9 L213.3 1088.5 L213.3 1086.6 L209 1083.5"/>
<path class="l"  d="M213.3 1086.6 L222.1 1090.6"/>
<path class="l"  d="M214.8 1085.8 L223 1089.5"/>
<path class="l"  d="M232.1 1082.2 L232.7 1085.4"/>
<ellipse class="l" cx="245.9" cy="1007.5" rx="3.4" ry="1.9"/>
<ellipse class="l" cx="245.9" cy="1008.0" rx="1.6" ry="1"/>
<path class="l"  d="M242.4 1007.5 L242.4 1017.2"/>
<path class="l"  d="M249.4 1007.5 L249.4 1018.5"/>
<ellipse class="l" cx="251.9" cy="1010.8" rx="3.4" ry="1.9"/>
<ellipse class="l" cx="251.9" cy="1011.3" rx="1.6" ry="1"/>
<path class="l"  d="M248.4 1010.8 L248.4 1020.6"/>
<path class="l"  d="M255.4 1010.8 L255.4 1021.8"/>
<ellipse class="l" cx="259.6" cy="1015.0" rx="3.4" ry="1.9"/>
<ellipse class="l" cx="259.6" cy="1015.5" rx="1.6" ry="1"/>
<path class="l"  d="M256.1 1015 L256.1 1028.7"/>
<path class="l"  d="M263.1 1015 L263.1 1030"/>
<ellipse class="l" cx="267.4" cy="1020.6" rx="3.4" ry="1.9"/>
<ellipse class="l" cx="267.4" cy="1021.1" rx="1.6" ry="1"/>
<path class="l"  d="M263.9 1020.6 L263.9 1032.7"/>
<path class="l"  d="M270.9 1020.6 L270.9 1034"/>
<path class="l"  d="M236.5 1020 L242.2 1016.8 L250.3 1019.3 L254 1022.5 L251.5 1025.6 L245.3 1023.7Z"/>
<path class="l"  d="M245.3 1023.7 L250.3 1019.7"/>
<path class="l"  d="M236.5 1020 L236.5 1048.7 L234.7 1049.3 L235.3 1052.5 L238.4 1053.7 L240.3 1057.5 L248.4 1061.2 L252.8 1058.7"/>
<path class="l"  d="M239 1021.8 L239 1052.7"/>
<path class="l"  d="M238.2 1036.2 L238.2 1048.7"/>
<path class="l"  d="M245.3 1023.7 L245.3 1060"/>
<path class="l"  d="M247.8 1057.5 L247.8 1041.2 L254.7 1038.1 L256.1 1041.8 L254 1043.7 L252.8 1057.5"/>
<path class="l"  d="M249.7 1042.7 L249.7 1056.5"/>
<path class="l"  d="M251.5 1026.2 L254.7 1023.7 L274.6 1030.6 L274.6 1032.5 L266.5 1036.2 L251.5 1028.1Z"/>
<path class="l"  d="M266.5 1036.2 L266.5 1066.5"/>
<path class="l"  d="M251.5 1028.1 L252.8 1058.7"/>
<path class="l"  d="M274.6 1032.5 L275.9 1057.5 L278.4 1058.1 L279 1060.6 L266.5 1067.5 L264 1068.1 L257.1 1063.7 L257.1 1061.8 L252.8 1058.7"/>
<path class="l"  d="M257.1 1061.8 L265.9 1065.8"/>
<path class="l"  d="M258.6 1061 L266.8 1064.7"/>
<path class="l"  d="M275.9 1057.5 L276.5 1060.6"/>
<!-- part8 -->
<path class="l"  d="M152.5 1110 C152.5 1112.5 151.7 1119.2 152.5 1125 C153.3 1130.8 154.2 1138.8 157.5 1145 C160.8 1151.2 165.8 1157.7 172.5 1162.5 C179.2 1167.3 186.2 1170.6 197.5 1173.8 C208.8 1176.9 224.6 1179.4 240 1181.2 C255.4 1183.1 273.3 1184 290 1185 C306.7 1186 325.4 1186.7 340 1187.5 C354.6 1188.3 368.1 1189 377.5 1190 C386.9 1191 393.1 1193.1 396.2 1193.8"/>
<path class="l"  d="M164.2 1112.5 C164.4 1115 163.8 1122.1 165 1127.5 C166.2 1132.9 167.5 1139.6 171.2 1145 C175 1150.4 180.2 1155.8 187.5 1160 C194.8 1164.2 203.8 1167.3 215 1170 C226.2 1172.7 240.4 1174.4 255 1176.2 C269.6 1178.1 287.1 1179.8 302.5 1181.2 C317.9 1182.7 334.6 1183.6 347.5 1185 C360.4 1186.4 371.9 1188 380 1189.5 C388.1 1191 393.5 1193 396.2 1193.8"/>
<path class="l"  d="M170 1118.8 C170.2 1120.6 170 1126 171.2 1130 C172.5 1134 173.5 1138.1 177.5 1142.5 C181.5 1146.9 187.1 1152.3 195 1156.2 C202.9 1160.2 213.3 1163.5 225 1166.2 C236.7 1169 250.8 1170.4 265 1172.5 C279.2 1174.6 295.4 1176.9 310 1178.8 C324.6 1180.6 340.6 1182.1 352.5 1183.8 C364.4 1185.4 374 1187.1 381.2 1188.8 C388.5 1190.4 393.8 1192.9 396.2 1193.8"/>
<path class="l"  d="M177 1120 C177.5 1121.7 177.8 1126.5 180 1130 C182.2 1133.5 185 1137.7 190 1141.2 C195 1144.8 201.7 1148.1 210 1151.2 C218.3 1154.4 228.3 1157.3 240 1160 C251.7 1162.7 266.7 1165 280 1167.5 C293.3 1170 307.1 1172.5 320 1175 C332.9 1177.5 347.1 1180.3 357.5 1182.5 C367.9 1184.7 376 1186.1 382.5 1188 C389 1189.9 394 1192.8 396.2 1193.8"/>
<path class="l"  d="M202 1087.5 C202.3 1089.6 202 1095.4 203.8 1100 C205.5 1104.6 207.7 1110 212.5 1115 C217.3 1120 223.8 1125.4 232.5 1130 C241.2 1134.6 253.3 1138.3 265 1142.5 C276.7 1146.7 290 1150.8 302.5 1155 C315 1159.2 328.8 1163.3 340 1167.5 C351.2 1171.7 362.1 1176.5 370 1180 C377.9 1183.5 383.1 1186.5 387.5 1188.8 C391.9 1191 394.8 1192.9 396.2 1193.8"/>
<path class="l"  d="M208 1088.8 C208.3 1090.4 208.2 1094.8 210 1098.8 C211.8 1102.7 214 1107.9 218.8 1112.5 C223.5 1117.1 230.2 1121.9 238.8 1126.2 C247.3 1130.6 258.5 1134.6 270 1138.8 C281.5 1142.9 295.2 1147.1 307.5 1151.2 C319.8 1155.4 332.9 1159.4 343.8 1163.8 C354.6 1168.1 365 1173.5 372.5 1177.5 C380 1181.5 384.8 1184.8 388.8 1187.5 C392.7 1190.2 395 1192.7 396.2 1193.8"/>
<path class="l"  d="M214.2 1091.2 C214.6 1092.5 214.5 1095.6 216.2 1098.8 C218 1101.9 220.2 1106 225 1110 C229.8 1114 236.7 1118.3 245 1122.5 C253.3 1126.7 263.8 1130.8 275 1135 C286.2 1139.2 300.4 1143.3 312.5 1147.5 C324.6 1151.7 337.1 1155.4 347.5 1160 C357.9 1164.6 367.9 1170.6 375 1175 C382.1 1179.4 386.5 1183.1 390 1186.2 C393.5 1189.4 395.2 1192.5 396.2 1193.8"/>
<path class="l"  d="M220 1095 C220.6 1096 221.7 1099 223.8 1101.2 C225.8 1103.5 227.7 1105.8 232.5 1108.8 C237.3 1111.7 244.2 1115.2 252.5 1118.8 C260.8 1122.3 271.7 1126 282.5 1130 C293.3 1134 306 1138.1 317.5 1142.5 C329 1146.9 341.2 1151.2 351.2 1156.2 C361.2 1161.2 370.8 1167.7 377.5 1172.5 C384.2 1177.3 388.1 1181.5 391.2 1185 C394.4 1188.5 395.4 1192.3 396.2 1193.8"/>
<path class="l"  d="M241.5 1061 C242.9 1064.2 247.3 1074.8 250 1080 C252.7 1085.2 253.3 1087.9 257.5 1092.5 C261.7 1097.1 267.9 1102.9 275 1107.5 C282.1 1112.1 290.8 1115.8 300 1120 C309.2 1124.2 320.8 1128.1 330 1132.5 C339.2 1136.9 347.5 1141.2 355 1146.2 C362.5 1151.2 369.4 1156.9 375 1162.5 C380.6 1168.1 385.2 1174.8 388.8 1180 C392.3 1185.2 395 1191.5 396.2 1193.8"/>
<path class="l"  d="M249 1062 C250.2 1065 253.6 1075.1 256.2 1080 C258.9 1084.9 260.8 1087.3 265 1091.2 C269.2 1095.2 274.6 1099.6 281.2 1103.8 C287.9 1107.9 296.2 1112.1 305 1116.2 C313.8 1120.4 325 1124.4 333.8 1128.8 C342.5 1133.1 350.2 1137.3 357.5 1142.5 C364.8 1147.7 372 1154 377.5 1160 C383 1166 387.4 1173.1 390.5 1178.8 C393.6 1184.4 395.3 1191.2 396.2 1193.8"/>
<path class="l"  d="M255.5 1064.8 C256.9 1067.3 261.1 1076 263.8 1080 C266.4 1084 267.3 1085.3 271.2 1088.8 C275.2 1092.2 281 1096.5 287.5 1100.5 C294 1104.5 301.7 1108.4 310 1112.5 C318.3 1116.6 329 1120.6 337.5 1125 C346 1129.4 354.2 1133.5 361.2 1138.8 C368.3 1144 374.9 1150 380 1156.2 C385.1 1162.5 389.3 1170 392 1176.2 C394.7 1182.5 395.5 1190.8 396.2 1193.8"/>
<path class="l"  d="M263 1068.5 C264.2 1070.4 267.6 1077 270 1080 C272.4 1083 273.8 1083.3 277.5 1086.2 C281.2 1089.2 286.2 1093.8 292.5 1097.5 C298.8 1101.2 306.9 1104.8 315 1108.8 C323.1 1112.7 332.9 1116.7 341.2 1121.2 C349.6 1125.8 358 1130.6 365 1136.2 C372 1141.9 378.3 1148.5 383 1155 C387.7 1161.5 391 1168.5 393.2 1175 C395.5 1181.5 395.8 1190.6 396.2 1193.8"/>
<path class="l"  d="M408.8 1174.5 C409.6 1175.8 413.3 1180.1 413.8 1182.5 C414.2 1184.9 414.2 1186.9 411.2 1188.8 C408.3 1190.6 400.6 1191.9 396.2 1193.8 C391.9 1195.6 387.9 1197.3 385 1200 C382.1 1202.7 379.8 1208.3 378.8 1210"/>
<!-- part3 -->
<path class="l" style="stroke-width:1.5" d="M723.4 810.2 L731.5 825.4"/>
<path class="l" style="stroke-width:1.5" d="M735.3 832.2 L743.3 847.4"/>
<path class="ax"  d="M746.7 854.2 L755.4 870.8 L770 879.8"/>
<path class="ax"  d="M777.6 883.6 L791.5 892"/>
<path class="ax"  d="M799.5 896.2 L814.4 906.1"/>
<path class="ax"  d="M821 909.4 L835.9 917.7"/>
<path class="ax"  d="M841.7 921 L857.4 930.1"/>
<path class="ax"  d="M864 933.4 L877 941"/>
<path class="l"  d="M891.3 947.5 L878.1 939.2 L876.4 945 L888.8 952.4"/>
<path class="l"  d="M881.4 941.2 L879.2 946.8"/>
<path class="l"  d="M884.7 943.2 L882.6 948.8"/>
<path class="l"  d="M888 945.1 L885.9 950.8"/>
<path class="l"  d="M891.3 947.1 L889.2 952.8"/>
<path class="l"  d="M891.3 947.5 C892.2 946.4 894 946.6 895.5 946.6 C897 946.6 899.2 946.6 900.4 947.5 C901.7 948.3 902.6 950.1 902.9 951.6 C903.2 953.1 903.1 955.4 902.1 956.6 C901.1 957.8 898.6 958.6 897.1 958.7 C895.6 958.9 894.1 958.3 893 957.4 C891.9 956.5 890.8 954.9 890.5 953.3 C890.2 951.6 890.5 948.6 891.3 947.5Z"/>
<path class="l"  d="M898.8 948.3 L900.8 952.8"/>
<path class="l"  d="M895.5 946.6 C895.9 946.9 897.3 947.3 898 948.3 C898.6 949.3 899.5 950.9 899.6 952.4 C899.7 954 898.9 956.8 898.8 957.7"/>
<!-- housing -->
<path class="d"  d="M375.8 223.3 C374.8 224.1 371.6 226.3 370 228.3 C368.3 230.2 366.8 232.2 365.8 234.9 C364.8 237.7 364.8 240.2 364.1 244.9 C363.4 249.6 362.6 256.3 361.6 263.2 C360.7 270.2 359.3 279.3 358.3 286.5 C357.3 293.7 356.4 301.8 355.8 306.5 C355.2 311.2 354.8 313.4 354.7 314.8"/>
<path class="d"  d="M354.7 314.8 L519.7 419.6 L540 431.9"/>
<path class="l"  d="M375.8 223.3 L411.6 203.3 L418.2 200"/>
<path class="l"  d="M375.8 224.1 L390.8 219.6"/>
<path class="l"  d="M375.8 224.1 L376.6 229.1"/>
<path class="d"  d="M376.6 229.1 L408.2 241.6 L438.2 259.1 L448.2 264.6"/>
<path class="d"  d="M448.2 264.6 C450.4 266.4 457 271.5 461.5 275.7 C465.9 279.9 472.6 287.5 474.8 289.9"/>
<path class="l"  d="M474.8 289.9 C476.2 291.2 480.3 296.2 483.1 297.8 C485.9 299.5 488.4 299.9 491.4 299.8 C494.5 299.8 496.6 299.6 501.4 297.3 C506.3 295.1 517.4 288.3 520.5 286.5"/>
<path class="l"  d="M391.6 220 C392 221.1 392.7 225 394.1 226.6 C395.5 228.3 398.9 229.4 399.9 230"/>
<path class="l"  d="M404.9 223.3 C405 221.5 404.6 215 405.7 212.5 C406.8 210 409.2 209.2 411.6 208.3 C413.9 207.5 417.1 207.3 419.9 207.5 C422.6 207.6 426.8 208.9 428.2 209.2"/>
<ellipse class="l" cx="403.6" cy="227.5" rx="3" ry="1.7"/>
<path class="l"  d="M400.6 228 L400.6 230.3 L406.6 230.3 L406.6 228"/>
<path class="l"  d="M408.2 226.6 L408.2 240.8"/>
<path class="l"  d="M378.3 220.3 C381.1 218.9 388.8 214.8 394.9 212 C401 209.2 409.9 205 414.9 203.7 C419.9 202.4 421.5 203.4 424.9 204.2 C428.2 204.9 431.5 206.8 434.9 208.3 C438.2 209.8 440.4 211 444.8 213.3 C449.3 215.7 457 220.1 461.5 222.5 C465.9 224.8 469.8 226.6 471.5 227.5"/>
<path class="d"  d="M428.2 209.2 C431 210.3 439.8 213.4 444.8 215.8 C449.8 218.2 454.5 221.5 458.1 223.3 C461.7 225.1 465.1 226.1 466.5 226.6"/>
<path class="l"  d="M456.5 224.1 L455.6 258.2"/>
<path class="l"  d="M458.5 225 L457.8 256.6"/>
<path class="l"  d="M433.2 256.6 L441.5 253.2 L444.8 254.9 L454 258.2"/>
<path class="l"  d="M442.3 263.2 L455.6 257.4 L464.8 251.6"/>
<path class="l"  d="M458.1 241.6 L466.5 230 L469 239.9 L476.4 235.8 L473.1 248.3 L465.6 249.9 L465.6 243.3"/>
<path class="l"  d="M459.8 242.4 L474.8 233.3 L486.4 232.4 L491.4 233.3 L495.6 234.9 L491.4 238.3 L486.4 237.4 L486.4 233.3"/>
<path class="l"  d="M478.9 242.4 C478.9 243.7 478.5 248.4 478.9 249.9 C479.4 251.4 480.7 251.6 481.4 251.6 C482.2 251.6 483.1 251.4 483.4 249.9 C483.8 248.4 483.4 243.7 483.4 242.4"/>
<path class="l"  d="M464.8 237.4 L473.1 248.3"/>
<path class="d"  d="M514.7 249.9 L516.4 286.5"/>
<path class="d"  d="M518 251.6 L518.9 286.5"/>
<path class="l"  d="M521.4 286.5 L519.7 299.8"/>
<path class="l"  d="M519.7 301.5 C515.5 303.7 499.6 310.9 494.8 314.8 C489.9 318.7 491.3 323.1 490.6 324.8"/>
<path class="l"  d="M524.7 300.7 C520.3 303 503.5 310.9 498.1 314.8 C492.7 318.7 493.2 322.4 492.3 324"/>
<path class="l"  d="M490.6 324.8 L492.3 324"/>
<path class="l"  d="M508.1 318.1 L516.4 313.1 L519.7 314.8 L523 319.8 L542 314.8"/>
<path class="l"  d="M508.1 318.1 L521.4 348.1 L542 350.6"/>
<path class="l"  d="M513.1 326.5 L523.9 322.3"/>
<path class="l"  d="M511.4 323.1 L523 346.4"/>
<path class="l"  d="M441.7 205.7 C441.7 203 441.2 193.7 442 189.9 C442.8 186 444.4 184.1 446.7 182.4 C449 180.7 452.5 179.7 455.8 179.6 C459.1 179.4 462 179.8 466.6 181.2 C471.2 182.6 480.5 186.8 483.3 187.9"/>
<path class="l"  d="M443.3 205.7 C443.5 203.3 443.3 195 444.2 191.5 C445 188.1 446.2 186.3 448.3 184.9 C450.4 183.5 453 182.7 456.6 183.2 C460.2 183.8 462.9 185.4 470 188.2 C477 191 494.2 197.9 499.1 199.9"/>
<path class="l"  d="M499.1 199.9 C495.2 202.3 481.2 212.2 475.8 214.8 C470.4 217.5 472 217.2 466.6 215.7 C461.2 214.1 447.2 207.3 443.3 205.7"/>
<path class="l"  d="M483.6 188.2 C483.7 184 483.5 168.7 484.1 163.2 C484.7 157.8 485.6 157.5 487.4 155.8 C489.2 154 492.1 153.1 494.9 152.9 C497.7 152.8 500.9 152.8 504.1 154.9 C507.2 157.1 510 163.1 514 165.7 C518.1 168.4 525.8 169.9 528.2 170.7"/>
<path class="l"  d="M485.8 164.9 C486.3 163.8 487.4 159.8 489.1 158.3 C490.7 156.7 493.5 155.8 495.7 155.8 C498 155.8 499.8 156.2 502.4 158.3 C505 160.3 508.1 165.5 511.5 168.2 C515 171 519.2 172.6 523.2 174.9 C527.2 177.2 533.6 180.7 535.7 181.9"/>
<path class="l"  d="M535.7 181.9 C531.4 184.2 515.4 193.3 509.9 195.7 C504.3 198.1 506.8 197.4 502.4 196.2 C498 194.9 486.7 189.5 483.6 188.2"/>
<path class="l"  d="M528.2 171.2 C528.3 168.2 528.3 157.5 529 153.3 C529.7 149 530.5 147.6 532.3 145.8 C534.1 144 537.2 142.7 539.8 142.4 C542.5 142.2 544.5 142.8 548.2 144.1 C551.8 145.4 557 148.4 561.5 150.4 C565.9 152.5 572.6 155.6 574.8 156.6"/>
<path class="l"  d="M530.2 154.1 C530.7 153 531.4 149 533.2 147.4 C534.9 145.9 536.8 144 540.7 144.9 C544.5 145.9 550.2 149.6 556.5 152.9 C562.7 156.3 574.5 162.9 578.1 164.9"/>
<path class="l"  d="M578.1 164.9 C573.7 167.3 557.3 176.7 551.5 179.1 C545.7 181.4 547 180.3 543.2 179.1 C539.3 177.8 530.7 172.8 528.2 171.6"/>
<path class="l"  d="M575.6 158.6 C575.9 154.9 576.4 141.4 577.3 136.6 C578.1 131.9 578.8 131.4 580.6 130 C582.4 128.5 585.2 128 588.1 128 C591 128 593.6 128.5 598.1 130 C602.5 131.4 611.9 135.5 614.7 136.6"/>
<path class="d"  d="M614.7 136.6 C616.7 137.4 622.6 139.8 626.4 141.3 C630.1 142.8 635.2 145 637 145.8"/>
<path class="l"  d="M578.9 137.5 C579.5 136.5 580.6 132.7 582.3 131.6 C583.9 130.5 585.5 129.7 588.9 130.8 C592.4 131.9 597.8 135.1 603.1 138.3 C608.3 141.5 618.2 147.3 620.5 149.9 C622.9 152.6 621.8 151.7 617.2 154.1 C612.6 156.5 598.5 162.4 593.1 164.1 C587.7 165.7 587.5 164.9 584.8 164.1 C582 163.2 577.8 159.9 576.4 159.1"/>
<path class="l"  d="M479.1 218.2 L517.4 197.9"/>
<path class="l"  d="M481.6 219.3 L518.2 199.4"/>
<path class="d" style="stroke-dasharray:4 3 10 3 2 3" d="M523.2 195.7 L624.7 158.3"/>
<path class="l"  d="M479.1 218.2 L494.9 226.5"/>
<path class="l"  d="M480.8 216.8 L496.6 225.1"/>
<path class="d" style="stroke-width:1.6;stroke-dasharray:20 5" d="M494.9 226.5 L637 170.7"/>
<path class="l"  d="M624.7 158.3 L628.9 156.6 L637 164.6"/>
<path class="l"  d="M626.4 159.4 L633.8 166.9"/>
<path class="d"  d="M440 210.7 L451.6 216.5 L461.6 221.5"/>
<path class="d"  d="M440 214.8 L450 219 L460 224"/>
<path class="l"  d="M465 224.8 C466.9 225.5 472.4 228.4 476.6 229 C480.8 229.5 486.6 228 489.9 228.1 C493.2 228.3 493.8 228.1 496.6 229.8 C499.3 231.5 502.7 234.8 506.6 238.1 C510.4 241.4 515.4 245.6 519.9 249.8 C524.3 253.9 529.9 259.8 533.2 263.1 C536.5 266.4 538.4 267.8 539.8 269.7 C541.2 271.7 541.8 273.3 541.5 274.7 C541.2 276.1 541.8 276 538.2 278.1 C534.6 280.1 522.9 285.7 519.9 287.2"/>
<path class="d"  d="M494.9 232.3 C496.8 234.1 502.7 239.4 506.6 243.1 C510.4 246.9 514.3 250.9 518.2 254.8 C522.1 258.6 526.9 263.2 529.9 266.4 C532.8 269.6 534.7 272.6 535.7 273.9"/>
<path class="l"  d="M524.9 241.4 C525.4 240.9 524 240.5 528.2 238.1 C532.3 235.8 545.1 229 549.8 227.3 C554.5 225.6 554.5 227.2 556.5 228.1 C558.4 229.1 557.9 229.2 561.5 233.1 C565.1 237 573.4 245.3 578.1 251.4 C582.8 257.5 586.1 263.9 589.8 269.7 C593.4 275.6 597.2 282.2 599.7 286.4 C602.2 290.5 603.9 293.3 604.7 294.7"/>
<path class="d"  d="M524.9 241.4 C525.1 242.6 522.9 243.9 526.5 248.1 C530.1 252.3 541.5 262 546.5 266.4 C551.5 270.8 554.8 273.3 556.5 274.7"/>
<path class="l"  d="M559 224.8 C559.5 224 557.7 222.9 562.3 219.8 C566.9 216.8 581.4 208.6 586.4 206.5 C591.4 204.4 590.4 206.2 592.2 207.3 C594 208.4 593.5 208.3 597.2 213.2 C601 218 609.9 229.2 614.7 236.5 C619.6 243.7 622.6 249.8 626.4 256.4 C630.1 263.1 635.2 273.1 637 276.4"/>
<path class="d"  d="M559 224.8 C559.7 225.9 559.1 227.3 563.1 231.5 C567.1 235.6 578.1 245.1 583.1 249.8 C588.1 254.5 591.4 258.1 593.1 259.8"/>
<path class="l"  d="M596.4 204.8 C597 204.1 593.9 204.3 599.7 200.7 C605.6 197.1 625.1 186.1 631.3 183.2 C637.6 180.3 636.1 183.2 637 183.2"/>
<path class="d"  d="M596.4 204.8 C597 205.7 597 207.1 599.7 209.8 C602.5 212.6 609.2 217.9 613 221.5 C616.9 225.1 621.4 229.8 623 231.5"/>
<path class="l"  d="M524.9 288 L546.5 276.4 L556.5 276.4"/>
<path class="d"  d="M526.5 288.9 C531.5 289.3 545.9 289 556.5 291.4 C567 293.7 578.7 298.3 589.8 303 C600.8 307.7 615.2 315.5 623 319.7 C630.9 323.8 634.7 326.6 637 328"/>
<path class="l"  d="M559 288.9 L571.4 280.5"/>
<path class="l" style="stroke-width:1.4" d="M573.1 281.4 L637 307.2"/>
<path class="l"  d="M559 288.9 L626.4 316.3 L638 308.8"/>
<path class="d"  d="M566.5 286.4 L623 309.7"/>
<path class="l"  d="M619.7 298 L626.4 273.1 L637 268.1"/>
<path class="l"  d="M611.4 286.4 L623 281.4"/>
<path class="l"  d="M586.4 248.1 L594.7 248.1 L595.6 256.4 L589.8 253.1Z"/>
<path class="d"  d="M596.4 251.4 L623 266.4"/>
<path class="d"  d="M599.7 258.1 L619.7 269.7"/>
<path class="l"  d="M554.8 268.1 L563.1 269.7 L556.5 276.4"/>
<path class="l"  d="M620.2 225 L630.2 220 L636.8 220.8 L670.1 248.3 L670.9 253.2 L651.8 263.2 L645.2 263.2"/>
<path class="l"  d="M627.7 227.5 L632.7 225.8 L636 229.1 L630.2 231.6Z"/>
<path class="d"  d="M623.5 230 L643.5 254.9"/>
<path class="d"  d="M636.8 231.6 L663.5 249.9"/>
<path class="d"  d="M640.2 238.3 L660.1 253.2"/>
<path class="l"  d="M653.5 200 C655.7 202.8 662.6 210.3 666.8 216.6 C670.9 223 675.7 233 678.4 238.3 C681.2 243.5 681.8 245.8 683.4 248.3 C685.1 250.7 687.6 252.4 688.4 253.2"/>
<path class="l"  d="M660.1 235.8 L687.6 253.2"/>
<path class="l"  d="M578.6 251.6 C580.8 254.6 588 264.1 591.9 269.9 C595.8 275.7 599.4 282.4 601.9 286.5 C604.4 290.7 605.5 293.2 606.9 294.8 C608.3 296.5 609.7 296.2 610.2 296.5"/>
<path class="l"  d="M586.9 248.3 C588.3 249.4 592.5 250.7 595.2 254.9 C598 259.1 601.1 267.4 603.6 273.2 C606.1 279 608.3 285.8 610.2 289.9 C612.2 293.9 614.4 296.1 615.2 297.3"/>
<path class="l"  d="M615.2 236.6 C617.1 239.9 623.8 251.6 626.9 256.6 C629.9 261.6 632.4 264.9 633.5 266.6"/>
<path class="l"  d="M620.2 236.6 C622.1 239.7 628.8 249.9 631.8 254.9 C634.9 259.9 637.4 264.6 638.5 266.6"/>
<path class="d"  d="M596.9 254.9 L623.5 268.2"/>
<path class="d"  d="M600.2 261.6 L625.2 273.2"/>
<path class="l"  d="M620.2 298.2 C618.8 292.6 624.6 278.3 626.9 273.2 C629.1 268.1 631.3 268.4 633.5 267.4 C635.7 266.4 636.8 266 640.2 267.4 C643.5 268.8 649 272.8 653.5 275.7 C657.9 278.6 664.3 282.2 666.8 284.9 C669.3 287.5 672.3 287.9 668.4 291.5 C664.6 295.1 649 304 643.5 306.5 C637.9 309 639.1 307.9 635.2 306.5 C631.3 305.1 621.6 303.7 620.2 298.2Z"/>
<path class="l"  d="M610.2 286.5 L623.5 279.9"/>
<path class="l"  d="M666.8 278.2 L710 261.6 L711.7 264.9 L710 269.9 L681.8 284 L675.1 283.2Z"/>
<path class="l" style="stroke-width:1.5" d="M668.4 278.5 L710 262.7"/>
<path class="l"  d="M673.4 268.2 L675.1 273.2"/>
<path class="l"  d="M659.3 310.6 L673.4 318.1"/>
<path class="d" style="stroke-dasharray:8 3" d="M659.3 310.6 L720 275.7"/>
<path class="d" style="stroke-dasharray:8 3" d="M661.8 309 L719.2 278.2"/>
<path class="l" style="stroke-width:1.5" d="M673.4 318.1 L734 286.5"/>
<path class="l"  d="M720 275.7 L734 283.2"/>
<path class="l"  d="M726.7 279.9 L734 284.9"/>
<path class="d"  d="M660.1 274 L734 239.9"/>
<path class="l"  d="M706.7 203.3 C708.9 207.2 715.5 220.8 720 226.6 C724.6 232.4 731.7 236.3 734 238.3"/>
<path class="l"  d="M713.4 258.2 C714.8 258.2 718.3 257.5 721.7 258.2 C725.1 258.9 732 261.7 734 262.4"/>
<path class="d"  d="M537 314.8 C539.8 315.2 548.1 315.6 553.6 317.3 C559.2 319 564.2 321.3 570.3 324.8 C576.4 328.3 584.7 333.9 590.2 338.1 C595.8 342.3 600 346.6 603.6 349.8 C607.2 352.9 610.5 356 611.9 357.2"/>
<path class="d"  d="M537 316.8 C539.8 317.2 548.2 317.8 553.6 319.5 C559 321.1 563.6 323.3 569.4 326.8 C575.3 330.2 583.5 335.9 588.9 340.1 C594.4 344.3 598.7 348.6 602.2 351.7 C605.8 354.9 608.9 357.7 610.2 358.9"/>
<path class="d"  d="M537 348.1 C539.8 348.8 548.1 350 553.6 352.2 C559.2 354.5 565.3 357.9 570.3 361.4 C575.3 364.9 580.3 370.4 583.6 373 C586.9 375.7 589.1 376.5 590.2 377.2"/>
<path class="d"  d="M537 350.1 C539.6 350.8 547.5 352.2 552.8 354.4 C558.1 356.6 564 360 568.9 363.4 C573.9 366.8 579.1 372.5 582.3 374.7 C585.4 376.9 586.8 376.1 587.7 376.4"/>
<path class="l"  d="M611.9 357.2 L590.2 377.2 L585.3 374.7"/>
<path class="l"  d="M610.2 357.2 L643.5 334.8"/>
<path class="d"  d="M643.5 334.8 L623.5 320.1"/>
<path class="l"  d="M616.9 363.9 C617.4 365.7 618.8 371.2 620.2 374.7 C621.6 378.2 623 382.1 625.2 384.7 C627.4 387.3 628.8 388 633.5 390.5 C638.2 393 642.9 394.4 653.5 399.7 C664 404.9 689.5 418.2 696.7 422"/>
<path class="d"  d="M631 373.9 L760 299.8"/>
<path class="d"  d="M660.1 388 C659.3 386.9 655.7 383.3 655.1 381.4 C654.6 379.4 655.4 377.9 656.8 376.4 C658.2 374.8 655.7 376.7 663.5 372.2 C671.2 367.8 696.7 353.5 703.4 349.8"/>
<path class="d"  d="M660.1 388 L686.8 401.3"/>
<path class="d"  d="M678.4 398.8 L734 369.7"/>
<path class="d"  d="M623.3 139.1 C625.5 140 631.6 141.8 636.6 144.1 C641.6 146.5 647.7 149.8 653.3 153.3 C658.8 156.7 664.4 160.5 669.9 164.9 C675.5 169.3 681.6 174.9 686.6 179.9 C691.5 184.9 696 190.1 699.9 194.9 C703.7 199.6 707.1 204.3 709.9 208.2 C712.6 212.1 715.4 216.5 716.5 218.2"/>
<path class="l"  d="M716.5 218.2 C717.1 219.3 718.2 222.3 719.8 224.8 C721.5 227.3 724 230.5 726.5 233.1 C729 235.8 733.4 239.4 734.8 240.6"/>
<path class="l"  d="M734.8 240.6 L736.5 263.9"/>
<path class="d"  d="M734.8 240.1 L659.9 274.7"/>
<path class="l"  d="M620 189.9 C621.9 188.8 628.6 184.2 631.6 183.2 C634.7 182.2 634.7 181.3 638.3 184 C641.9 186.8 648.6 194.4 653.3 199.9 C658 205.3 662.7 210.9 666.6 216.5 C670.5 222 673.8 227.9 676.6 233.1 C679.3 238.4 681.3 244.8 683.2 248.1 C685.2 251.4 687.4 252.3 688.2 253.1"/>
<path class="l"  d="M620 156.6 L626.7 156.6 L641.6 169.1 L636.6 171.6 L625 159.1"/>
<path class="l"  d="M623.3 157.4 L638.3 170.2"/>
<path class="l" style="stroke-width:1.5" d="M621.7 174.1 L636.6 170.7"/>
<path class="l"  d="M713.2 258.9 C714.3 258.8 717.3 257.8 719.8 258.1 C722.3 258.4 725.4 259.5 728.2 260.6 C730.9 261.7 732.3 262.4 736.5 264.7 C740.6 267.1 749 271.7 753.1 274.7 C757.3 277.8 758.7 279.2 761.4 283 C764.2 286.9 766.7 293.6 769.8 298 C772.8 302.5 771.9 305.6 779.7 309.7 C787.6 313.7 804.8 318.4 817 322.1 C829.2 325.9 845 330.2 852.9 332.1 C860.9 334.1 862.7 333.5 864.6 333.8"/>
<path class="l"  d="M773.1 308 L779.7 309.7"/>
<path class="d"  d="M703.3 348.9 C709 345.7 753.4 320 759.9 316.6 C766.4 313.2 766.5 315 768.2 315 C769.9 315 770.2 314.3 776.5 316.6 C782.8 319 825.9 336.1 831.4 338.3"/>
<path class="d"  d="M733.9 368.2 C736.9 366.5 759.6 353.3 763.2 351.6 C766.8 349.8 768.5 350.6 769.9 350.7 C771.2 350.8 771.5 350.6 776.5 352.4 C781.5 354.2 815.5 367.4 819.8 369"/>
<path class="l"  d="M819.8 369 L823.1 372.4 L823.1 383.2"/>
<ellipse class="l" cx="767.4" cy="366.9" rx="8.6" ry="4.8"/>
<path class="l" d="M759.3 366.1 A 8.2 4.4 0 0 0 775.5 366.1"/>
<ellipse class="l" cx="736.9" cy="384.5" rx="8.6" ry="4.8"/>
<path class="l" d="M728.8 383.7 A 8.2 4.4 0 0 0 745.0 383.7"/>
<path class="d"  d="M821.4 376.5 L736.6 422.3"/>
<path class="d"  d="M823.1 384 L734.9 432.3"/>
<path class="d"  d="M823.1 383.2 L833.1 384"/>
<path class="l"  d="M690 404.8 L700 409 L703.3 408.1 L706.6 411.5"/>
<path class="d"  d="M706.6 411.5 L735.8 424.8"/>
<path class="l"  d="M628.4 388.2 L726.6 434.8"/>
<path class="l"  d="M735.8 424.8 L736.6 431.4 L726.6 434.8 L729.9 429.8Z"/>
<path class="l" style="stroke-width:1.6" d="M718.3 443.1 L734.1 433.9"/>
<path class="l"  d="M715.8 444.7 C715.9 445.5 716.3 451.2 716.6 452.2 C717 453.2 718 454.5 719.1 454.7 C720.3 455 727.1 455.1 728.3 454.7 C729.4 454.4 730.5 453.2 730.8 451.4 C731 449.6 730.8 437.9 730.8 436.4"/>
<path class="l"  d="M705.8 449.7 L706.6 458.9 L710 458.1 L710.8 449.7"/>
<path class="l"  d="M700 454.7 L705.8 458.9"/>
<path class="l"  d="M666.7 471.4 C668.9 470.5 676.1 468 680 466.4 C683.9 464.7 684 465 690 461.4 C696 457.8 708.4 449.3 715.8 444.7 C723.1 440.2 731 435.7 734.1 433.9"/>
<path class="l"  d="M884.9 336.6 C885.2 334.1 886 325.8 886.6 321.6 C887.1 317.4 887.3 314.1 888.2 311.6 C889.2 309.1 890.7 307.6 892.4 306.6 C894.1 305.7 897.2 305.9 898.2 305.8"/>
<path class="d"  d="M888.2 308.3 L891.6 305 L898.2 303.3 L903.2 304.1 L989.7 359.9"/>
<path class="d"  d="M898.2 305.8 L901.5 308.3 L956.5 341.6"/>
<path class="l"  d="M956.5 341.6 L931.5 358.2 L924.8 360.7 L884.9 337.4"/>
<path class="l"  d="M956.5 341.6 L941.5 353.2"/>
<path class="l"  d="M833.3 329.9 L845.8 321.6 L852.5 321.6 L864.9 329.9 L878.3 324.9 L884.9 329.1"/>
<path class="l"  d="M836.7 330.7 L846.6 324.1 L851.6 324.1 L840 333.2"/>
<path class="l"  d="M835 331.6 L848.3 322.9 L855 323.6"/>
<path class="d"  d="M830 336.6 L916.5 372.3"/>
<path class="d"  d="M841.6 333.2 L904.9 360.7"/>
<path class="d"  d="M851.6 329.9 L909.9 356.5"/>
<path class="l"  d="M874.9 336.6 L884.9 337.4 L909.9 355.7 L904.9 360.7 L874.9 336.6"/>
<path class="d"  d="M916.5 372.3 L951.5 361.5"/>
<path class="l"  d="M951.5 361.5 L964.8 370.7"/>
<path class="d"  d="M964.8 370.7 L989.7 362.4"/>
<path class="l"  d="M989.7 359.9 C989.8 361.1 991.2 369.1 990.6 370.7 C989.9 372.2 984.9 372.5 983.9 373.2 C982.9 373.9 981.8 375.9 982.2 376.5 C982.7 377.1 986.5 377.6 988.1 378.2 C989.6 378.8 994.3 380.5 995.6 381.5 C996.8 382.5 998.6 385.1 998.9 386.5 C999.2 387.8 998.9 391.8 998.1 393.1 C997.2 394.5 993.5 397.5 991.4 398.1 C989.3 398.8 982.1 399.4 979.8 399 C977.4 398.6 973.2 396.3 971.4 394.8 C969.7 393.4 965.6 387.5 964.8 386.5"/>
<path class="l"  d="M965.6 389.8 C967.1 391.1 970.7 395.6 974.8 397.3 C978.8 399 986 400.1 989.7 399.8 C993.5 399.5 995.8 397.3 997.2 395.6 C998.7 394 998.2 390.8 998.4 389.8"/>
<ellipse class="l" cx="983.9" cy="386.2" rx="5.8" ry="3.3"/>
<path class="d"  d="M919.9 373.2 L919.9 418.9"/>
<path class="d"  d="M951.5 362.4 L950.6 408.1"/>
<path class="d"  d="M964.8 370.7 L963.9 414.8"/>
<path class="l"  d="M962.3 388.2 L961.4 416.4"/>
<path class="d"  d="M831.7 384.5 L913.2 416.4 L919.9 418.9 L950.6 408.1"/>
<path class="l"  d="M950.6 408.1 L961.4 416.4 L963.9 414.8"/>
<path class="d"  d="M540 432.4 C547.2 436.3 572.2 450 583.3 455.7 C594.4 461.4 599.9 463.8 606.6 466.5 C613.2 469.3 617.6 471 623.2 472.4 C628.7 473.7 634.3 474.4 639.8 474.5 C645.4 474.7 652 473.7 656.5 473.2 C660.9 472.7 664.8 471.8 666.5 471.5"/>
<path class="l"  d="M666.5 471.5 C669 470.7 676.2 469 681.4 466.5 C686.7 464 692.2 460.2 698.1 456.6 C703.9 453 713.3 446.8 716.4 444.9"/>
<rect x="583" y="458" width="2" height="16.6" fill="#000"/>
<rect x="583" y="483.4" width="2" height="15.7" fill="#000"/>
<rect x="583" y="508.4" width="2" height="16.6" fill="#000"/>
<rect x="618" y="473" width="2" height="14.7" fill="#000"/>
<rect x="618" y="496.1" width="2" height="13.2" fill="#000"/>
<rect x="645" y="481.3" width="2" height="2.1" fill="#000"/>
<rect x="645" y="491.9" width="2" height="16.5" fill="#000"/>
<rect x="645" y="517.3" width="2" height="16.1" fill="#000"/>
<rect x="645" y="542.3" width="2" height="16.2" fill="#000"/>
<path class="l" style="stroke-width:2" d="M583.5 533 L598.7 524.5"/>
<path class="l" style="stroke-width:2" d="M605.5 520.3 L620.7 512.7"/>
<path class="l" style="stroke-width:2" d="M627.1 508.4 L645.3 497"/>
<!-- clip -->
<path class="l"  d="M625.7 571.4 C628.8 569.7 652.9 556.2 656.5 554.7 C660 553.2 660.6 555.7 661.5 556.4 C662.3 557.1 664.4 560.5 664.8 561.4 C665.2 562.3 665.8 564.6 665.6 565.5 C665.5 566.5 663.4 570 663.1 570.5"/>
<path class="l"  d="M663.1 570.5 L638.2 583"/>
<path class="l"  d="M638.2 583 C637.8 581.9 636.9 578.2 635.7 576.4 C634.4 574.5 632.3 572.5 630.7 571.7 C629 570.9 626.5 571.4 625.7 571.4"/>
<polygon points="634.9,570.3 637.9,566.8 648.0,560.9 658.8,558.1 658.5,561.9 653.9,567.1 643.8,571.4 637.0,571.9" fill="#000"/>
<polygon points="638.3,569.3 642.5,566.1 649.0,563.2 656.0,561.2 652.2,565.9 643.8,569.5" fill="#fff"/>
<path class="l"  d="M625.7 571.4 L625.7 589.7 L626.5 600.5"/>
<path class="l"  d="M634 574.7 C634.4 575.5 636.2 578 636.5 579.7 C636.8 581.3 636.2 582.5 635.7 584.7 C635.1 586.9 633.5 590.4 633.2 593 C632.9 595.6 633.9 599.2 634 600.5"/>
<path class="l"  d="M663.1 570.5 C662.7 572.3 661.3 577.9 660.6 581.3 C659.9 584.8 659.2 588.2 659 591.3 C658.7 594.4 659 598.5 659 600"/>
<path class="l"  d="M659 600 L661.5 600.5 L660.6 596.3"/>
<rect x="689" y="598" width="4" height="3" fill="#000"/>
</g>
<g id="wm" filter="url(#gs)">
<rect x="468" y="601" width="244" height="132" fill="#fff"/>
<g fill="#dedede" stroke="#fff" stroke-width="0.6">
<polygon points="649.6,602.3 672.9,613.9 674.1,637.2 650.2,629.2"/>
<polygon points="607.3,612.7 621.4,617.6 617.8,624.3 606.7,624.3"/>
<polygon points="617.8,624.3 623.9,618.2 647.1,620.7 648.4,630.5 638.6,631.1" fill="#d2d2d2"/>
<polygon points="588.4,631.7 616.5,625.6 636.7,630.8 631.2,666.6 590.8,667.8 593.9,656.8 593.3,634.7"/>
<polygon points="577.3,643.9 578.6,639.6 593.3,634.5 593.5,636.6 580.4,640.9 579.8,644.5"/>
<polygon points="636.7,630.8 674.1,638.4 702.3,649.4 703.5,656.8 699.8,659.2 692.5,655.6 693.7,666.6 691.2,672.7 677.8,678.8 628.8,680.0 631.2,666.6"/>
<polygon points="659.4,639.6 701.0,648.2 703.5,651.9 702.9,659.2 699.2,659.2 698.0,653.1 659.4,646.0" fill="#d2d2d2"/>
<polygon points="557.8,683.7 623.9,683.7 625.1,682.5 692.5,682.5 702.3,691.1 692.5,730.3 674.1,727.8 557.8,708.2" fill="#eeeeee"/>
<ellipse cx="700.4" cy="708.2" rx="9" ry="17" transform="rotate(20 700.4 708.2)" fill="#dedede"/>
</g>
<g fill="#ececec" stroke="#fff" stroke-width="0.8">
<polygon points="596.3,635.3 610.4,633.5 605.5,647.0 603.7,659.2 596.3,661.7"/>
<polygon points="610.4,633.5 615.9,632.5 623.3,664.1 604.3,664.1 603.7,656.8" fill="#d2d2d2"/>
<polygon points="619.6,633.5 633.7,634.7 627.6,664.1 624.5,664.1" fill="#d2d2d2"/>
</g>
<g stroke="#f4f4f4" stroke-width="0.5">
<line x1="651.6" y1="603.3" x2="651.8" y2="629.6"/>
<line x1="653.5" y1="604.2" x2="653.8" y2="630.6"/>
<line x1="655.5" y1="605.2" x2="655.7" y2="631.6"/>
<line x1="657.4" y1="606.2" x2="657.7" y2="632.5"/>
<line x1="659.4" y1="607.2" x2="659.6" y2="633.5"/>
<line x1="661.4" y1="608.2" x2="661.6" y2="634.5"/>
<line x1="663.3" y1="609.1" x2="663.6" y2="635.5"/>
<line x1="665.3" y1="610.1" x2="665.5" y2="636.5"/>
<line x1="667.2" y1="611.1" x2="667.5" y2="637.4"/>
<line x1="669.2" y1="612.1" x2="669.4" y2="638.4"/>
<line x1="671.2" y1="613.1" x2="671.4" y2="639.4"/>
<line x1="607.3" y1="615.1" x2="620.2" y2="619.4"/>
<line x1="607.3" y1="617.0" x2="620.2" y2="621.3"/>
<line x1="607.3" y1="618.8" x2="620.2" y2="623.1"/>
<line x1="607.3" y1="620.7" x2="620.2" y2="624.9"/>
<line x1="607.3" y1="622.5" x2="620.2" y2="626.8"/>
<polyline fill="none" points="641.0,645.1 648.4,643.9 692.5,656.8 693.1,666.6 691.2,671.5"/>
<polyline fill="none" points="648.4,643.9 643.5,664.7 633.7,664.7"/>
<polyline fill="none" points="628.8,670.9 648.4,670.3 650.8,680.0"/>
<polyline fill="none" points="654.5,666.6 690.0,671.5"/>
<polyline fill="none" stroke-width="1" points="704.7,693.5 693.7,715.6 674.1,730.3"/>
</g>
<polygon points="544.5,675.3 548.9,677.5 548.1,683.0 543.3,684.0 541.9,687.9 545.1,691.6 542.3,696.4 537.4,695.4 534.7,698.5 536.2,703.2 531.7,706.6 527.6,703.8 523.9,705.6 523.5,710.5 518.1,711.9 515.4,707.8 511.2,708.0 509.0,712.4 503.5,711.6 502.5,706.8 498.6,705.4 494.9,708.6 490.1,705.8 491.1,700.9 488.0,698.2 483.3,699.7 479.9,695.2 482.7,691.1 480.9,687.4 476.0,687.0 474.6,681.6 478.7,678.9 478.5,674.7 474.1,672.5 474.9,667.0 479.7,666.0 481.1,662.1 477.9,658.4 480.7,653.6 485.6,654.6 488.3,651.5 486.8,646.8 491.3,643.4 495.4,646.2 499.1,644.4 499.5,639.5 504.9,638.1 507.6,642.2 511.8,642.0 514.0,637.6 519.5,638.4 520.5,643.2 524.4,644.6 528.1,641.4 532.9,644.2 531.9,649.1 535.0,651.8 539.7,650.3 543.1,654.8 540.3,658.9 542.1,662.6 547.0,663.0 548.4,668.4 544.3,671.1" fill="#a9a9a9"/>
<circle cx="511.5" cy="675.0" r="33.0" fill="none" stroke="#a2a2a2" stroke-width="1"/>
<clipPath id="gc"><polygon points="460,630 560,630 560,672 540,674 520,677 500,683 478,690 460,690"/></clipPath>
<circle cx="510.5" cy="675.0" r="27.5" fill="#fff" clip-path="url(#gc)"/>
<polygon points="516,715 524,692 552,681 552,715" fill="#fff"/>
<polygon points="478.2,684.3 492.0,680.0 508.4,676.1 524.9,673.9 546.9,672.8 568.8,672.6 587.5,673.0 587.5,677.8 568.8,678.1 546.9,679.4 524.9,683.8 502.9,689.8 482.1,695.9" fill="#b4b4b4"/>
<polyline points="478.6,687.2 492.4,683.0 508.6,679.1 524.9,676.4 546.9,674.5 568.8,674.0 587.5,674.2" fill="none" stroke="#e8e8e8" stroke-width="0.7"/>
<polyline points="479.1,690.1 492.8,686.0 508.7,682.0 524.9,678.9 546.9,676.1 568.8,675.3 587.5,675.4" fill="none" stroke="#e8e8e8" stroke-width="0.7"/>
<polyline points="479.5,693.0 493.2,689.0 508.8,685.0 524.9,681.3 546.9,677.8 568.8,676.7 587.5,676.6" fill="none" stroke="#e8e8e8" stroke-width="0.7"/>
<text x="592" y="680.5" font-family="Liberation Sans, sans-serif" font-size="12.5" fill="#8c8c8c" textLength="33" lengthAdjust="spacingAndGlyphs">ООО</text>
<text x="513" y="712" font-size="38" font-family="Liberation Serif, serif" font-weight="bold" fill="#9c9c9c" stroke="#fff" stroke-width="1.6" paint-order="stroke" textLength="27" lengthAdjust="spacingAndGlyphs">А</text>
<text x="537.5" y="712" font-size="33.5" font-family="Liberation Serif, serif" font-weight="bold" fill="#9c9c9c" stroke="#fff" stroke-width="1.6" paint-order="stroke" textLength="153.5" lengthAdjust="spacingAndGlyphs">ГРОСНАБ</text>
</g>
<g id="frame" shape-rendering="crispEdges">
<path class="l" d="M265.5 981 V545.5 H812"/>
<path class="l" style="stroke-width:2" d="M813 545 V1146"/>
<path class="l" d="M812 1145.5 H471 L265.5 981"/>
</g>
<g id="labels" filter="url(#gs)">
<text class="n" x="210" y="744">10</text>
<text class="n" x="738" y="730">2</text>
<text class="n" x="917" y="915">3</text>
<text class="n" x="787" y="969">4</text>
<text class="n" x="573" y="1122">5</text>
<text class="n" x="439" y="855">6</text>
<text class="n" x="283" y="879">7</text>
<text class="n" x="365" y="1104">8</text>
<text class="n" x="185" y="938">9</text>
<text class="f" x="14" y="1312">RXA0099890</text>
</g>
<g id="leaders">
<path class="ld" d="M238.5 738.5 L265 744"/>
<path class="ld" d="M736 732.5 L708.4 759"/>
<path class="ld" d="M916.3 917.5 L890 942.7"/>
<path class="ld" d="M786.7 971.3 L760.4 996.5"/>
<path class="ld" style="stroke-width:1.8" d="M567.9 1031.6 L585 1107 L717 1107"/>
<path class="ld" d="M451.5 855.5 L478.7 881.5"/>
<path class="ld" d="M295.5 880.3 L322.7 906.3"/>
<path class="ld" d="M363.75 1106.25 L336.25 1133.75"/>
<path class="ld" d="M161.7 1057 L193.3 946.9 L211 1034.3 M193.3 946.9 L241.5 1006.4"/>
</g>
</svg>
</body></html>
